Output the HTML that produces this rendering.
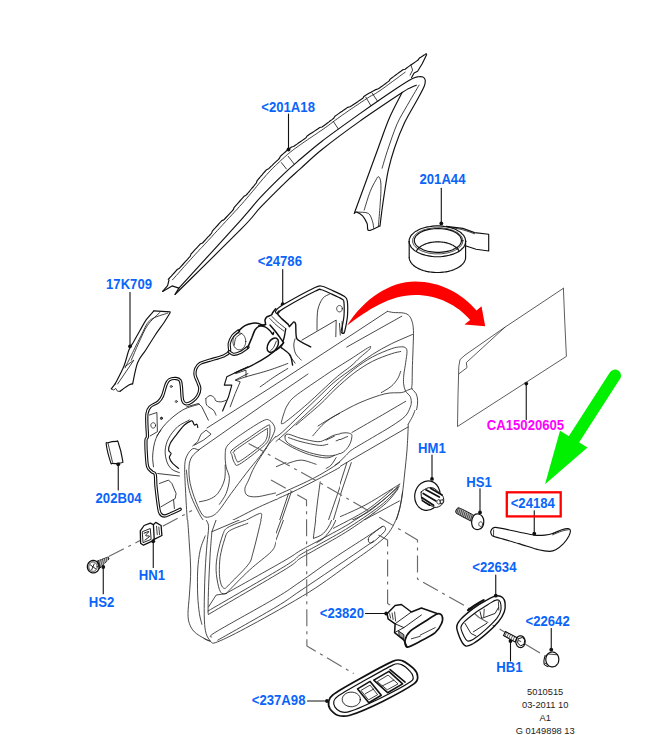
<!DOCTYPE html>
<html><head><meta charset="utf-8"><title>Door trim diagram</title>
<style>
html,body{margin:0;padding:0;background:#fff;}
body{width:647px;height:735px;overflow:hidden;}
svg{display:block;}
svg text{font-family:"Liberation Sans",Arial,sans-serif;}
.lb text{font-weight:bold;font-size:14px;}
.sm text{font-size:9.3px;fill:#222;text-anchor:middle;}
</style></head><body>
<svg width="647" height="735" viewBox="0 0 647 735">
<rect width="647" height="735" fill="#fff"/>
<g fill="none" stroke="#111" stroke-linecap="round" stroke-linejoin="round">
<g class="lb" stroke="none">
<text transform="translate(261.3 112) scale(0.938 1)" fill="#0a64fa">&lt;201A18</text>
<text transform="translate(419.5 183.8) scale(0.938 1)" fill="#0a64fa">201A44</text>
<text transform="translate(257.8 265.8) scale(0.938 1)" fill="#0a64fa">&lt;24786</text>
<text transform="translate(106.05 288.75) scale(0.938 1)" fill="#0a64fa">17K709</text>
<text transform="translate(95.55 502.75) scale(0.938 1)" fill="#0a64fa">202B04</text>
<text transform="translate(138.8 579.5) scale(0.938 1)" fill="#0a64fa">HN1</text>
<text transform="translate(88.8 606.75) scale(0.938 1)" fill="#0a64fa">HS2</text>
<text transform="translate(418.05 453) scale(0.938 1)" fill="#0a64fa">HM1</text>
<text transform="translate(466.3 486.75) scale(0.938 1)" fill="#0a64fa">HS1</text>
<text transform="translate(510.7 507.8) scale(0.938 1)" fill="#0a64fa">&lt;24184</text>
<text transform="translate(472.3 571.6) scale(0.938 1)" fill="#0a64fa">&lt;22634</text>
<text transform="translate(525.55 625.5) scale(0.938 1)" fill="#0a64fa">&lt;22642</text>
<text transform="translate(496.3 671.5) scale(0.938 1)" fill="#0a64fa">HB1</text>
<text transform="translate(319.8 618) scale(0.938 1)" fill="#0a64fa">&lt;23820</text>
<text transform="translate(251.8 704.75) scale(0.938 1)" fill="#0a64fa">&lt;237A98</text>
<text transform="translate(486.8 429.5) scale(0.938 1)" fill="#ff00ff">CA15020605</text>
</g>
<g class="sm" stroke="none">
<text x="545.2" y="694.6">5010515</text>
<text x="545.2" y="707.9">03-2011 10</text>
<text x="545.2" y="721">A1</text>
<text x="545.2" y="734">G 0149898 13</text>
</g>
<path d="M288.5 114 L288.5 149.5" stroke-width="1.1"/>
<circle cx="288.5" cy="149.5" r="1.9" fill="#111" stroke="none"/>
<path d="M441.3 188.3 L441.3 223.4" stroke-width="1.1"/>
<circle cx="441.3" cy="223.4" r="1.9" fill="#111" stroke="none"/>
<path d="M282.7 269.5 L282.7 304.2" stroke-width="1.1"/>
<circle cx="282.7" cy="304.2" r="1.9" fill="#111" stroke="none"/>
<path d="M130 292.5 L130 346.3" stroke-width="1.1"/>
<circle cx="130" cy="346.3" r="1.9" fill="#111" stroke="none"/>
<path d="M118.25 490 L118.25 464.3" stroke-width="1.1"/>
<circle cx="118.25" cy="464.3" r="1.9" fill="#111" stroke="none"/>
<path d="M153.25 567.5 L153.25 541.3" stroke-width="1.1"/>
<circle cx="153.25" cy="541.3" r="1.9" fill="#111" stroke="none"/>
<path d="M103.25 593.7 L103.25 567" stroke-width="1.1"/>
<circle cx="103.25" cy="567" r="1.9" fill="#111" stroke="none"/>
<path d="M432 455 L432 478.9" stroke-width="1.1"/>
<circle cx="432" cy="478.9" r="1.9" fill="#111" stroke="none"/>
<path d="M480 488.8 L480 512.5" stroke-width="1.1"/>
<circle cx="480" cy="512.5" r="1.9" fill="#111" stroke="none"/>
<path d="M534.25 510.8 L534.25 533.7" stroke-width="1.1"/>
<circle cx="534.25" cy="533.7" r="1.9" fill="#111" stroke="none"/>
<path d="M495.75 575 L495.75 595.7" stroke-width="1.1"/>
<circle cx="495.75" cy="595.7" r="1.9" fill="#111" stroke="none"/>
<path d="M551.25 628.5 L551.25 649.7" stroke-width="1.1"/>
<circle cx="551.25" cy="649.7" r="1.9" fill="#111" stroke="none"/>
<path d="M510.5 661 L510.5 641" stroke-width="1.1"/>
<circle cx="510.5" cy="641" r="1.9" fill="#111" stroke="none"/>
<path d="M365.5 613.5 L386.2 613.5" stroke-width="1.1"/>
<circle cx="386.2" cy="613.5" r="1.9" fill="#111" stroke="none"/>
<path d="M307.5 701 L327 701" stroke-width="1.1"/>
<circle cx="327" cy="701" r="1.9" fill="#111" stroke="none"/>
<path d="M526.25 419.5 L526.25 383.6" stroke-width="1.1"/>
<circle cx="526.25" cy="383.6" r="1.9" fill="#111" stroke="none"/>
<rect x="506.8" y="492.3" width="53.9" height="24.1" stroke="#ff0000" stroke-width="2.3" stroke-linejoin="miter"/>
<path d="M347 325.6 C363.8 298.8 390.1 281.5 415.1 281.5 C440.2 281.5 462.7 293.8 476.5 310.6 L481.5 306.3 L485.2 326.3 L464.4 324.6 L470.2 320.1 C457.7 305.1 437.6 295 415.1 295 C390.1 295 367.5 310.1 347 325.6Z" fill="#ff0000" stroke="none"/>
<path d="M615 375.5 L573.5 440" stroke="#00f000" stroke-width="12" stroke-linecap="round"/>
<path d="M560 430.7 L587.5 447.5 L545 484.3Z" fill="#00f000" stroke="none"/>
<path d="M168.3 279.4 L169.1 278.5 L170.1 277.4 L171.3 276.1 L172.6 274.6 L174.1 273 L175.6 271.3 L177.2 269.5 L179.5 268.2 L181.1 266.4 L182.8 264.5 L184.4 262.7 L186 260.9 L187.5 259.3 L188.9 257.7 L190.2 256.3 L191.1 253.9 L192.6 252.3 L194.1 250.7 L195.5 249.2 L196.8 247.8 L198.1 246.4 L199.3 245.1 L200.6 243.7 L202.6 243 L203.9 241.5 L205.2 240.1 L206.5 238.7 L207.8 237.2 L209.1 235.9 L210.4 234.5 L211.6 233.1 L212.3 231.1 L213.6 229.7 L215 228.2 L216.4 226.6 L217.9 225 L219.5 223.2 L220.7 221.9 L221.9 220.6 L223.8 219.9 L225.1 218.5 L226.5 217 L227.8 215.6 L229.2 214.1 L230.6 212.6 L232 211.1 L233.4 209.5 L234.2 207.3 L235.6 205.8 L237.1 204.2 L238.5 202.6 L239.9 201 L241.3 199.4 L242.7 197.9 L244 196.3 L246.1 195.2 L247.6 193.5 L249 191.8 L250.5 190 L252 188.2 L253.5 186.5 L254.9 184.7 L256.3 183 L257.1 180.7 L258.4 179.1 L259.8 177.5 L261 176 L262.3 174.6 L263.4 173.2 L264.5 172 L266.6 169.7 L269.1 168.4 L270.7 166.7 L272.2 165.3 L273.6 163.9 L274.9 162.7 L276.3 161.4 L277.7 160.1 L279.3 158.5 L280.3 156.4 L281.8 155 L283.4 153.6 L285 152.2 L286.6 150.8 L288.3 149.4 L289.9 148.2 L291.5 147 L293.6 146.5 L295.3 145.3 L297 144.1 L298.8 142.8 L300.7 141.5 L302.7 140.1 L304.3 139 L305.9 137.9 L307.1 136 L308.9 134.8 L310.7 133.6 L312.5 132.4 L314.4 131.1 L316.2 129.9 L318 128.7 L319.8 127.5 L322 127 L323.8 125.7 L325.5 124.5 L327.1 123.3 L328.7 122.1 L330.3 120.8 L332 119.6 L333.7 118.3 L334.9 116.3 L336.9 114.9 L339 113.4 L340.5 112.3 L342.2 111.2 L343.9 109.9 L345.7 108.7 L347.6 107.4 L350 106.8 L352 105.5 L353.9 104.2 L355.9 102.9 L357.7 101.7 L359.5 100.4 L361.3 99.3 L362.9 98.2 L363.9 96.4 L365.3 95.5 L367.7 94.1 L369.4 93.1 L370.7 92.4 L371.8 91.8 L373.2 91.1 L375.1 89.9 L378.3 88.8 L379.5 88 L380.8 87 L382.3 86 L383.8 84.9 L385.4 83.7 L387.1 82.4 L388.9 81.1 L390.2 79.1 L392 77.7 L393.9 76.4 L395.7 75 L397.6 73.6 L399.4 72.3 L401.2 71 L402.9 69.7 L405.1 69.2 L406.7 68 L408.2 66.9 L409.6 65.9 L410.9 65 L413.5 63.2 L415.8 61.6 L418 60.1 L419.4 58.1 L421.2 57 L422.7 56 L424.1 55.1 L425.2 54.4 L426.2 53.7" stroke-width="1.15"/>
<path d="M162.6 291.4 L167.6 285.6 L169 280" stroke-width="1.15"/>
<path d="M172.5 279.8 L173.7 278.5 L175 277 L176.4 275.4 L178 273.7 L179.5 271.9 L181.2 270 L182.8 268.2 L184.5 266.3 L186.1 264.5 L187.7 262.7 L189.2 261.1 L190.6 259.5 L191.9 258.1 L193.5 256.3 L195 254.7 L196.4 253.1 L197.8 251.7 L199.1 250.2 L200.4 248.8 L201.7 247.5 L203 246.1 L204.3 244.8 L205.6 243.3 L206.9 241.9 L208.2 240.5 L209.5 239 L210.8 237.7 L212.1 236.3 L213.3 234.9 L214.6 233.5 L215.9 232.1 L217.3 230.6 L218.8 229 L220.3 227.4 L221.9 225.6 L223.1 224.3 L224.3 223 L225.5 221.7 L226.8 220.3 L228.2 218.8 L229.5 217.4 L230.9 215.9 L232.3 214.4 L233.7 212.9 L235.1 211.3 L236.6 209.8 L238 208.2 L239.4 206.6 L240.9 205 L242.3 203.4 L243.7 201.8 L245 200.3 L246.4 198.7 L247.8 197 L249.3 195.3 L250.7 193.6 L252.2 191.8 L253.7 190 L255.2 188.3 L256.6 186.5 L258 184.8 L259.4 183.1 L260.8 181.5 L262.1 179.9 L263.4 178.4 L264.7 177 L265.8 175.6 L266.9 174.4 L269 172.1 L270.8 170.2 L272.4 168.5 L273.9 167.1 L275.3 165.7 L276.6 164.5 L278 163.2 L279.4 161.9 L281 160.3 L282.6 158.9 L284.2 157.4 L285.7 156.1 L287.2 154.7 L288.9 153.3 L290.6 151.9 L292.2 150.7 L293.7 149.5 L295.3 148.3 L297 147.1 L298.7 145.9 L300.5 144.6 L302.4 143.3 L304.4 141.9 L306 140.8 L307.6 139.7 L309.3 138.5 L311.1 137.4 L312.9 136.1 L314.7 134.9 L316.6 133.7 L318.4 132.4 L320.2 131.2 L322 130 L323.7 128.8 L325.5 127.5 L327.2 126.3 L328.8 125.1 L330.4 123.9 L332 122.6 L333.7 121.4 L335.4 120.1 L337.2 118.8 L339.1 117.4 L341.2 115.9 L342.7 114.8 L344.4 113.7 L346.1 112.5 L347.9 111.2 L349.8 109.9 L351.7 108.6 L353.7 107.3 L355.6 106 L357.6 104.7 L359.4 103.5 L361.2 102.2 L363 101.1 L364.6 100 L366.1 99 L367.5 98.1 L369.8 96.6 L371.5 95.7 L372.8 95 L374 94.4 L375.4 93.6 L377.3 92.4 L380 90.6 L381.2 89.8 L382.5 88.8 L384 87.8 L385.5 86.7 L387.1 85.5 L388.8 84.2 L390.6 82.9 L392.4 81.6 L394.2 80.3 L396.1 78.9 L398 77.5 L399.8 76.1 L401.6 74.8 L403.4 73.5 L405.2 72.2" stroke-width="0.8"/>
<path d="M426.7 54.5 L422.2 63.8 L417.6 71.3 L414.1 73 L411.6 77.6" stroke-width="1.15"/>
<path d="M410.9 65 L412.6 70 L410.1 75.1" stroke-width="0.8"/>
<path d="M281.4 162.6 L286.4 168.9" stroke-width="0.8"/>
<path d="M288.2 156.3 L294 163.8" stroke-width="0.8"/>
<path d="M333.3 121.4 L338.3 128.9" stroke-width="0.8"/>
<path d="M365.8 97.1 L370.8 105.6" stroke-width="0.8"/>
<path d="M372.1 93.1 L377.6 101.3" stroke-width="0.8"/>
<path d="M162.6 291.4 L172.1 285.9 L178.9 288.1 L175.1 294.4" stroke-width="1.15"/>
<path d="M178.9 288.1 C189.4 276.6 228.4 233.9 242 218.8 C255.6 203.7 253 205.3 260.2 197.6 C267.4 189.9 278.5 179 285.2 172.6 C291.9 166.2 294.1 164.5 300.2 159.3 C306.3 154.1 312.1 148.8 322 141.2 C331.9 133.6 347.1 122.8 359.6 113.9 C372.1 105.1 388.4 93.9 397.1 88.1 C405.9 82.2 408.6 80.7 412.1 78.8 C415.7 76.9 416.6 77.1 418.4 76.8 C420.2 76.5 421.8 76.5 422.9 77.1 C424 77.6 425 78.6 425.2 80.1 C425.4 81.6 425.5 83 424.2 86.3 C422.9 89.6 420.4 94 417.1 100.1 C413.8 106.1 408.4 114.7 404.6 122.6 C400.9 130.5 397.3 139.8 394.6 147.7 C391.9 155.6 390.1 162.3 388.3 170.2 C386.6 178.1 385.2 188.1 384.1 195.2 C383 202.3 382.3 207.7 381.6 212.8 C380.9 217.9 380.3 223.8 380 226" stroke-width="1.15"/>
<path d="M175.1 294.4 C186.2 283.4 227.8 242.6 242 228.2 C256.2 213.8 253 215.3 260.2 207.7 C267.4 200.1 278.5 189.1 285.2 182.6 C291.9 176.1 294.1 174.4 300.2 168.9 C306.3 163.4 312.1 157.4 322 149.5 C331.9 141.6 346.2 130.9 359.6 121.4 C373 111.9 393.7 98.2 402.1 92.6 C410.5 87 407.6 89.2 410 88 C412.4 86.8 415.2 85.7 416.3 85.2" stroke-width="1.15"/>
<path d="M402.1 92.6 C400 96.8 393.6 108.4 389.6 117.6 C385.6 126.8 382.5 136.4 378.3 147.7 C374.2 158.9 368.5 174.4 364.6 185.2 C360.6 196.1 356.2 208.2 354.5 212.8" stroke-width="1.15"/>
<path d="M419.1 85.1 C417.1 88.5 410.8 99.1 407.1 105.6 C403.5 112.1 400.4 116.4 397.1 123.9 C393.9 131.3 390.1 142.8 387.6 150.2 C385.1 157.6 383 165.2 382.1 168.2" stroke-width="0.8"/>
<path d="M354.2 213.4 C354.6 213.2 355.3 211.7 356.7 212.1 C358.1 212.5 360.8 214.1 362.6 215.9 C364.3 217.8 366 221 367.1 223.5 C368.1 225.9 366.6 230.1 368.7 230.5 C370.8 230.9 377.9 226.7 379.7 226" stroke-width="1.15"/>
<path d="M356.7 212.1 C358.7 212.3 365.8 211.8 368.4 213.4 C371 215.1 371.7 219.3 372.6 221.8 C373.5 224.3 373.5 227.4 373.7 228.5" stroke-width="0.8"/>
<path d="M364.2 210.1 C365.2 207 368.1 196.7 370.1 191.7 C372 186.7 374.5 182.6 375.9 180.1 C377.3 177.5 377.6 176.6 378.4 176.7 C379.2 176.9 380.2 178.4 380.6 180.9 C381 183.4 381 187.7 380.9 191.7 C380.8 195.8 380.5 199.4 380.1 205.1 C379.7 210.8 378.7 222.5 378.4 226" stroke-width="0.8"/>
<path d="M153.9 310.9 L170.1 311.9" stroke-width="1.15"/>
<path d="M153.9 310.9 C152.6 312.4 148.6 316.5 146.3 319.7 C144.1 322.9 142.2 326.6 140.1 330.2 C138 333.8 135.7 338.1 133.8 341.5 C132 344.8 130.5 346.1 128.8 350.2 C127.2 354.4 126.1 360.9 123.8 366.5 C121.5 372.1 116.5 381.1 115.1 384" stroke-width="1.15"/>
<path d="M115.1 383.8 L111.3 388.8" stroke-width="1.15"/>
<path d="M170.1 312.7 C169.1 314.3 166.4 318.9 163.9 322.7 C161.4 326.4 158.2 330.6 155.1 335.2 C152.1 339.8 148.5 345.6 145.6 350.2 C142.7 354.8 139.8 357.1 137.6 362.7 C135.4 368.4 133.4 380.5 132.6 384" stroke-width="1.15"/>
<path d="M132.6 383.8 C132 384 130.9 383.8 128.8 385.1 C126.7 386.3 121.5 390.3 120.1 391.3" stroke-width="1.15"/>
<path d="M111.3 388.8 L113.8 390.1 L115.6 388.3 L117.6 391.3 L120.1 391.3" stroke-width="0.8"/>
<path d="M167.6 313.2 C164.7 314.3 154.5 316.5 150.1 320.2 C145.7 323.9 144.1 330.2 141.3 335.2 C138.6 340.2 136.5 344.8 133.8 350.2 C131.1 355.7 126.5 364.8 125.1 367.8" stroke-width="0.8"/>
<path d="M160.1 312.2 C158 314.3 151.1 320.1 147.6 325.2 C144.1 330.3 141.6 336.9 138.8 342.7 C136.1 348.6 132.6 357.3 131.3 360.2" stroke-width="0.8"/>
<path d="M125.1 366.5 L133.8 360.2 L117.6 384" stroke-width="0.8"/>
<path d="M106.3 444.7 C105.9 441.4 106.4 443.2 108 442.7 C109.7 442.1 114.6 441.4 116.3 441.4 C118 441.4 117.3 439.5 118.3 442.7 C119.4 445.8 122.1 456.8 122.6 460.2 C123.1 463.5 123 462.1 121.3 462.7 C119.6 463.2 114.3 463.6 112.5 463.4 C110.8 463.3 111.6 465.1 110.5 461.9 C109.5 458.8 106.7 447.9 106.3 444.7Z" stroke-width="1.15"/>
<path d="M108 443.2 L112.5 462.2" stroke-width="0.8"/>
<path d="M465.6 241.3 C465.3 242.6 465.9 242.7 464.7 245.3 C463.4 247.8 464.3 246.7 461.8 249 C459.4 251.3 460.8 250.3 457.4 252.2 C453.9 254 455.7 253.3 451.5 254.6 C447.3 255.9 449.4 255.5 444.7 256.1 C440 256.8 442.3 256.7 437.4 256.7 C432.5 256.7 434.8 256.8 430.1 256.1 C425.4 255.5 427.5 255.9 423.3 254.6 C419.1 253.3 420.9 254 417.5 252.2 C414 250.3 415.4 251.3 413 249 C410.5 246.7 411.4 247.8 410.2 245.3 C408.9 242.7 409.2 244 409.2 241.3 C409.2 238.7 408.9 239.9 410.2 237.3 C411.4 234.8 410.5 235.9 413 233.6 C415.4 231.3 414 232.3 417.5 230.4 C420.9 228.6 419.1 229.3 423.3 228 C427.5 226.7 425.4 227.2 430.1 226.5 C434.8 225.8 432.5 225.9 437.4 225.9 C442.3 225.9 440 225.8 444.7 226.5 C449.4 227.2 447.3 226.7 451.5 228 C455.7 229.3 453.9 228.6 457.4 230.4 C460.8 232.3 459.4 231.3 461.8 233.6 C464.3 235.9 463.4 234.8 464.7 237.3 C465.9 239.9 465.3 240 465.6 241.3 C465.9 242.6 465.9 240 465.6 241.3Z" stroke-width="1.15"/>
<path d="M462.8 240.8 C462.5 241.9 463 242 461.9 244.2 C460.8 246.3 461.6 245.4 459.4 247.3 C457.3 249.3 458.5 248.4 455.4 250 C452.4 251.6 454 251 450.3 252.1 C446.5 253.2 448.4 252.8 444.2 253.4 C440 254 442.1 253.8 437.7 253.8 C433.4 253.8 435.4 254 431.3 253.4 C427.1 252.8 429 253.2 425.2 252.1 C421.5 251 423.1 251.6 420 250 C417 248.4 418.2 249.3 416 247.3 C413.9 245.4 414.7 246.3 413.5 244.2 C412.4 242 412.7 243 412.7 240.8 C412.7 238.6 412.4 239.6 413.5 237.4 C414.7 235.3 413.9 236.2 416 234.3 C418.2 232.3 417 233.2 420 231.6 C423.1 230 421.5 230.6 425.2 229.5 C429 228.4 427.1 228.8 431.3 228.2 C435.4 227.6 433.4 227.8 437.7 227.8 C442.1 227.8 440 227.6 444.2 228.2 C448.4 228.8 446.5 228.4 450.3 229.5 C454 230.6 452.4 230 455.4 231.6 C458.5 233.2 457.3 232.3 459.4 234.3 C461.6 236.2 460.8 235.3 461.9 237.4 C463 239.6 462.5 239.7 462.8 240.8 C463.1 241.9 463.1 239.7 462.8 240.8Z" stroke-width="0.8"/>
<path d="M461.4 240.5 C461.2 241.5 461.7 241.6 460.6 243.5 C459.6 245.5 460.3 244.6 458.3 246.4 C456.3 248.2 457.4 247.4 454.5 248.8 C451.7 250.3 453.2 249.7 449.7 250.7 C446.2 251.8 447.9 251.4 444 251.9 C440.1 252.4 442 252.3 437.9 252.3 C433.8 252.3 435.7 252.4 431.8 251.9 C427.9 251.4 429.7 251.8 426.1 250.7 C422.6 249.7 424.1 250.3 421.3 248.8 C418.4 247.4 419.5 248.2 417.5 246.4 C415.5 244.6 416.2 245.5 415.2 243.5 C414.1 241.6 414.4 242.5 414.4 240.5 C414.4 238.4 414.1 239.4 415.2 237.4 C416.2 235.4 415.5 236.3 417.5 234.5 C419.5 232.8 418.4 233.5 421.3 232.1 C424.1 230.6 422.6 231.2 426.1 230.2 C429.7 229.2 427.9 229.5 431.8 229 C435.7 228.5 433.8 228.6 437.9 228.6 C442 228.6 440.1 228.5 444 229 C447.9 229.5 446.2 229.2 449.7 230.2 C453.2 231.2 451.7 230.6 454.5 232.1 C457.4 233.5 456.3 232.8 458.3 234.5 C460.3 236.3 459.6 235.4 460.6 237.4 C461.7 239.4 461.2 239.4 461.4 240.5 C461.7 241.5 461.7 239.4 461.4 240.5Z" stroke-width="1.15"/>
<path d="M465.6 257.2 C465.5 257.8 465.7 257.8 465.4 259.2 C465.1 260.5 465.3 259.8 464.7 261.1 C464 262.4 464.4 261.8 463.5 263 C462.5 264.3 463.1 263.7 461.8 264.8 C460.6 266 461.3 265.5 459.8 266.5 C458.3 267.6 459.1 267.1 457.4 268 C455.6 269 456.5 268.5 454.6 269.3 C452.6 270.2 453.6 269.8 451.5 270.5 C449.4 271.1 450.5 270.8 448.2 271.4 C445.9 271.9 447.1 271.7 444.7 272 C442.3 272.3 443.5 272.2 441.1 272.4 C438.7 272.6 439.9 272.5 437.4 272.5 C434.9 272.5 436.2 272.6 433.7 272.4 C431.3 272.2 432.5 272.3 430.1 272 C427.7 271.7 428.9 271.9 426.6 271.4 C424.3 270.8 425.4 271.1 423.3 270.5 C421.2 269.8 422.2 270.2 420.2 269.3 C418.3 268.5 419.2 269 417.5 268 C415.7 267.1 416.5 267.6 415 266.5 C413.5 265.5 414.2 266 413 264.8 C411.7 263.7 412.3 264.3 411.3 263 C410.4 261.8 410.8 262.4 410.2 261.1 C409.5 259.8 409.8 260.5 409.4 259.2 C409.1 257.8 409.3 257.8 409.2 257.2" stroke-width="1.15"/>
<path d="M409.2 241.3 L409.2 257.2" stroke-width="1.15"/>
<path d="M465.6 241.3 L465.6 257.2" stroke-width="1.15"/>
<path d="M416.6 250.6 C416.9 250.2 416.8 250.2 417.5 249.3 C418.1 248.5 417.8 248.9 418.6 248.1 C419.4 247.4 418.9 247.7 419.9 247 C420.8 246.3 420.3 246.7 421.3 246 C422.4 245.3 421.8 245.6 423 245.1 C424.2 244.5 423.6 244.7 424.8 244.2 C426.1 243.7 425.4 243.9 426.8 243.5 C428.1 243.1 427.4 243.3 428.8 242.9 C430.2 242.5 429.5 242.7 431 242.4 C432.4 242.1 431.7 242.3 433.2 242.1 C434.7 241.9 433.9 242 435.4 241.9 C437 241.8 436.2 241.8 437.7 241.8 C439.3 241.8 438.5 241.8 440 241.9 C441.5 242 440.8 241.9 442.3 242.1 C443.8 242.3 443.1 242.1 444.5 242.4 C446 242.7 445.3 242.5 446.7 242.9 C448.1 243.3 447.4 243.1 448.7 243.5 C450.1 243.9 449.4 243.7 450.7 244.2 C451.9 244.7 451.3 244.5 452.5 245.1 C453.6 245.6 453.1 245.3 454.1 246 C455.2 246.7 454.7 246.3 455.6 247 C456.5 247.7 456.1 247.4 456.9 248.1 C457.7 248.9 457.4 248.5 458 249.3 C458.7 250.2 458.6 250.2 458.9 250.6" stroke-width="1.15"/>
<path d="M446.1 226.4 L462.8 228.4 L474.5 232.6 L488.7 234.3 L488.7 251 L476.1 249.3 L466.1 246" stroke-width="1.15"/>
<path d="M449.4 227.1 C451.6 227.6 458.6 228.7 462.8 229.8 C467 230.9 472.5 233.1 474.5 233.8" stroke-width="0.8"/>
<path d="M563.4 288.3 L505.1 327.1 L465 355.1 L460 359.6 L458.8 366.4 L458 395.2 L457.5 426.5 L566.4 356.4 L564.7 320.1 L563.4 288.3" stroke-width="0.8" stroke="#333"/>
<path d="M505.1 327.1 L466.3 362.6 L467 367.6 L458.8 373.9" stroke-width="0.8" stroke="#333"/>
<path d="M180.2 509.3 C178.7 510 173.7 512.4 171.1 513.5 C168.5 514.6 166.2 516 164.4 516 C162.6 516 161.2 515 160.2 513.5 C159.2 512 159.2 511.2 158.5 506.8 C157.8 502.4 156.6 492.2 156 486.8 C155.4 481.4 155.9 476.8 155.2 474.3 C154.5 471.8 153.2 473.1 151.9 471.8 C150.7 470.6 148.6 469.6 147.7 466.8 C146.8 464 146.7 459.6 146.4 455.1 C146.1 450.7 145.8 443.2 146 440.1 C146.2 437 147.2 439.2 147.4 436.7 C147.6 434.2 147 428.9 146.9 425 C146.8 421.1 146.5 416.5 147 413.5 C147.5 410.5 148.1 408.8 150 406.8 C151.9 404.9 156.3 403.6 158.4 401.8 C160.5 400 161.2 398.8 162.5 396 C163.8 393.2 164.8 387.8 165.9 385.1 C167 382.4 167.5 380.9 169.2 379.8 C170.9 378.7 174.1 378.4 175.9 378.5 C177.7 378.6 179.2 379.1 180.1 380.5 C181 381.9 181 383.5 181.4 386.8 C181.8 390.1 181.8 397.4 182.6 400.2 C183.3 403 184.4 403.5 185.9 403.8 C187.4 404.1 189.9 403.1 191.8 401.8 C193.8 400.5 196.3 398.2 197.6 396 C198.9 393.8 199.8 390.9 199.8 388.5 C199.8 386.1 198.4 384 197.6 381.8 C196.8 379.6 195.4 377.3 195.1 375.1 C194.8 372.9 195.1 370.3 195.9 368.4 C196.7 366.4 197.7 364.8 200.1 363.4 C202.5 362 206.2 361.4 210.1 360.1 C214 358.9 220.3 357.3 223.5 355.9 C226.7 354.5 228.3 353.9 229.3 351.8 C230.3 349.7 228.7 346 229.3 343.4 C229.9 340.8 231.2 338 232.7 335.9 C234.2 333.8 237.5 331.7 238.5 330.9" stroke-width="3.3"/>
<path d="M180.2 509.3 C178.7 510 173.7 512.4 171.1 513.5 C168.5 514.6 166.2 516 164.4 516 C162.6 516 161.2 515 160.2 513.5 C159.2 512 159.2 511.2 158.5 506.8 C157.8 502.4 156.6 492.2 156 486.8 C155.4 481.4 155.9 476.8 155.2 474.3 C154.5 471.8 153.2 473.1 151.9 471.8 C150.7 470.6 148.6 469.6 147.7 466.8 C146.8 464 146.7 459.6 146.4 455.1 C146.1 450.7 145.8 443.2 146 440.1 C146.2 437 147.2 439.2 147.4 436.7 C147.6 434.2 147 428.9 146.9 425 C146.8 421.1 146.5 416.5 147 413.5 C147.5 410.5 148.1 408.8 150 406.8 C151.9 404.9 156.3 403.6 158.4 401.8 C160.5 400 161.2 398.8 162.5 396 C163.8 393.2 164.8 387.8 165.9 385.1 C167 382.4 167.5 380.9 169.2 379.8 C170.9 378.7 174.1 378.4 175.9 378.5 C177.7 378.6 179.2 379.1 180.1 380.5 C181 381.9 181 383.5 181.4 386.8 C181.8 390.1 181.8 397.4 182.6 400.2 C183.3 403 184.4 403.5 185.9 403.8 C187.4 404.1 189.9 403.1 191.8 401.8 C193.8 400.5 196.3 398.2 197.6 396 C198.9 393.8 199.8 390.9 199.8 388.5 C199.8 386.1 198.4 384 197.6 381.8 C196.8 379.6 195.4 377.3 195.1 375.1 C194.8 372.9 195.1 370.3 195.9 368.4 C196.7 366.4 197.7 364.8 200.1 363.4 C202.5 362 206.2 361.4 210.1 360.1 C214 358.9 220.3 357.3 223.5 355.9 C226.7 354.5 228.3 353.9 229.3 351.8 C230.3 349.7 228.7 346 229.3 343.4 C229.9 340.8 231.2 338 232.7 335.9 C234.2 333.8 237.5 331.7 238.5 330.9" stroke-width="1.1" stroke="#fff"/>
<path d="M229.3 351.8 C230 352.2 231.7 354.1 233.5 354.3 C235.3 354.4 237.7 353.8 240.2 352.6 C242.6 351.4 246.7 348.1 248 347.2" stroke-width="3.3"/>
<path d="M229.3 351.8 C230 352.2 231.7 354.1 233.5 354.3 C235.3 354.4 237.7 353.8 240.2 352.6 C242.6 351.4 246.7 348.1 248 347.2" stroke-width="1.1" stroke="#fff"/>
<path d="M247.5 348.2 C248.2 346.4 250.6 340.6 251.9 337.6 C253.1 334.5 253.9 331.9 255 330 C256.2 328.2 257 327.2 258.8 326.3 C260.5 325.4 264.5 324.7 265.7 324.4" stroke-width="1.5"/>
<path d="M238.5 330.9 C239.6 330 242.7 327 245 325.7 C247.3 324.4 250.4 323.6 252.5 323.2 C254.6 322.7 255.9 322.8 257.5 323.2 C259.2 323.5 261.2 324.9 262.5 325 C263.8 325.2 265 324.9 265.4 324 C265.8 323.2 264.8 321.2 265 320 C265.3 318.8 265.9 317.7 266.9 316.9 C268 316.1 270.3 315.8 271.3 315 C272.3 314.3 272.1 313.6 272.8 312.5 C273.5 311.5 275.2 309.4 275.7 308.8" stroke-width="1.5"/>
<path d="M277.2 311.8 C278.2 310.9 277.2 310.2 283.5 306.5 C289.8 302.8 308.4 292.6 314.8 289.5 C321.2 286.4 318.7 287.5 321.6 288 C324.6 288.5 328.9 290.9 332.5 292.5 C336.1 294.1 341 296.3 343.2 297.8 C345.4 299.3 345.2 298.6 345.6 301.5 C346 304.4 346 311.2 345.8 315 C345.6 318.8 345 321.2 344.5 324 C344 326.8 343.1 330.3 342.8 331.6" stroke-width="4.7"/>
<path d="M277.2 311.8 C278.2 310.9 277.2 310.2 283.5 306.5 C289.8 302.8 308.4 292.6 314.8 289.5 C321.2 286.4 318.7 287.5 321.6 288 C324.6 288.5 328.9 290.9 332.5 292.5 C336.1 294.1 341 296.3 343.2 297.8 C345.4 299.3 345.2 298.6 345.6 301.5 C346 304.4 346 311.2 345.8 315 C345.6 318.8 345 321.2 344.5 324 C344 326.8 343.1 330.3 342.8 331.6" stroke-width="2.3" stroke="#fff"/>
<path d="M279 311 C278.8 311.5 277.2 312.6 277.5 313.8 C277.9 315 279.5 316.4 281.3 318.2 C283.1 319.9 286.8 323 288.2 324.4 C289.5 325.8 289.2 326.2 289.4 326.5" stroke-width="1.5"/>
<path d="M245.7 341.4 C245.6 342.1 245.7 342.2 245.5 343.6 C245.2 345 245.4 344.3 244.8 345.6 C244.3 346.8 244.6 346.3 243.8 347.3 C243 348.3 243.5 347.9 242.5 348.6 C241.6 349.4 242 349.1 241 349.5 C239.9 349.8 240.4 349.7 239.3 349.7 C238.2 349.7 238.7 349.8 237.7 349.5 C236.6 349.1 237.1 349.4 236.2 348.6 C235.2 347.9 235.6 348.3 234.8 347.3 C234.1 346.3 234.4 346.8 233.8 345.6 C233.3 344.3 233.5 345 233.2 343.6 C232.9 342.2 233 342.8 233 341.4 C233 340 232.9 340.6 233.2 339.2 C233.5 337.9 233.3 338.5 233.8 337.2 C234.4 336 234.1 336.5 234.8 335.5 C235.6 334.5 235.2 334.9 236.2 334.2 C237.1 333.5 236.6 333.7 237.7 333.3 C238.7 333 238.2 333.1 239.3 333.1 C240.4 333.1 239.9 333 241 333.3 C242 333.7 241.6 333.5 242.5 334.2 C243.5 334.9 243 334.5 243.8 335.5 C244.6 336.5 244.3 336 244.8 337.2 C245.4 338.5 245.2 337.9 245.5 339.2 C245.7 340.6 245.6 340.7 245.7 341.4 C245.7 342.1 245.7 340.7 245.7 341.4Z" stroke-width="0.8"/>
<path d="M234.3 345.1 C234.6 343.8 234.7 339.5 236 337.6 C237.2 335.6 240.9 334.1 241.8 333.4" stroke-width="0.8"/>
<ellipse cx="272.8" cy="345.2" rx="4.8" ry="7.8" transform="rotate(30 272.8 345.2)" stroke-width="1.5"/>
<path d="M269.8 351.6 C270.4 350.9 272.5 349.3 273.5 347.6 C274.6 345.8 275.8 342.1 276.3 341.1" stroke-width="0.8"/>
<path d="M270 325 C271.1 326.3 274.4 330.1 276.3 332.5 C278.2 334.9 280.1 337.8 281.3 339.4 C282.5 341.1 283.2 342 283.6 342.6" stroke-width="1.5"/>
<path d="M258.8 325.7 C259.8 325.9 263.2 326.1 265 326.9 C266.9 327.7 268.7 329.4 270 330.7 C271.3 331.9 272.2 334.1 272.8 334.4 C273.4 334.7 273.4 332.9 273.5 332.5" stroke-width="1.5"/>
<path d="M271.9 316.5 C272.9 317.4 275.3 319.9 277.5 321.9 C279.8 323.9 284.3 327.4 285.7 328.5" stroke-width="0.8"/>
<path d="M269.8 318.5 C270.9 319.6 274 323 276.3 325 C278.6 327.1 282.6 330 283.8 331" stroke-width="0.8"/>
<path d="M285.7 328.8 C285.5 330 284.9 334.2 284.4 336.3 C284 338.4 283.1 340.7 282.8 341.6" stroke-width="1.4"/>
<path d="M283.6 342.6 C283.1 343.3 281.9 345.7 280.7 346.9 C279.5 348.2 277 349.5 276.3 350.1" stroke-width="1.3"/>
<path d="M235 372.8 C235.8 372.5 237.1 372 240 370.7 C242.9 369.4 247.9 367.5 252.5 365.1 C257.1 362.7 263.4 359 267.5 356.3 C271.7 353.6 274.9 351 277.5 348.8 C280.2 346.6 282.2 344.1 283.2 343.2" stroke-width="1.4"/>
<path d="M248 366.8 L226.8 376.8 L224.3 385.1 L231.8 385.1 L228.5 396.8 L222.6 411" stroke-width="1.15"/>
<path d="M248 373.5 L235.2 380.1 L240.2 381.8 L235.2 393.5 L230.2 406.8" stroke-width="0.8"/>
<path d="M289.4 326.5 C289.9 326.1 293.2 322.1 293.8 321.9 C294.4 321.7 295.4 322.7 295.7 324.4 C296 326.1 295.4 336.6 296.9 338.8 C298.4 341.1 309.3 346.1 310.7 346.9" stroke-width="1.4"/>
<path d="M295.1 338.8 C294.9 339.8 293.7 342.6 293.8 345.1 C293.9 347.6 294.4 351.3 295.7 353.8 C296.9 356.3 300.4 359 301.3 360.1" stroke-width="0.8"/>
<path d="M281.3 347.6 C282.8 348.8 288.2 352.2 290.1 355.1 C291.9 358 292.1 363.4 292.6 365.1" stroke-width="1.4"/>
<path d="M289.4 355.1 L295.1 363.2" stroke-width="0.8"/>
<path d="M205.9 398.5 C206.6 398 208.7 395.6 210.1 395.5 C211.5 395.4 213.3 396.7 214.3 397.7 C215.3 398.6 214.7 400.3 216 401 C217.2 401.7 220.1 402 221.8 401.8 C223.5 401.7 225.3 400.4 226 400.2" stroke-width="0.8"/>
<path d="M205.9 398.5 C206.1 399.6 205.5 403.2 206.8 405.2 C208 407.1 211.9 408.5 213.5 410.2 C215 411.9 215.5 414.4 216 415.2" stroke-width="0.8"/>
<path d="M186.7 406.8 L198.4 403.5 L201.8 406.8 L208.4 420.2" stroke-width="0.8"/>
<path d="M172.2 386.5 C172.2 386.6 172.2 386.6 172.2 386.7 C172.1 386.9 172.2 386.8 172.1 387 C172 387.1 172 387.1 171.9 387.2 C171.8 387.3 171.9 387.3 171.7 387.3 C171.6 387.4 171.6 387.4 171.5 387.4 C171.3 387.5 171.4 387.5 171.2 387.5 C171 387.5 171.1 387.5 171 387.4 C170.8 387.4 170.9 387.4 170.7 387.3 C170.6 387.3 170.6 387.3 170.5 387.2 C170.4 387.1 170.4 387.1 170.4 387 C170.3 386.8 170.3 386.9 170.3 386.7 C170.2 386.6 170.2 386.7 170.2 386.5 C170.2 386.3 170.2 386.4 170.3 386.2 C170.3 386.1 170.3 386.1 170.4 386 C170.4 385.8 170.4 385.9 170.5 385.8 C170.6 385.6 170.6 385.7 170.7 385.6 C170.9 385.5 170.8 385.6 171 385.5 C171.1 385.5 171 385.5 171.2 385.5 C171.4 385.5 171.3 385.5 171.5 385.5 C171.6 385.6 171.6 385.5 171.7 385.6 C171.9 385.7 171.8 385.6 171.9 385.8 C172 385.9 172 385.8 172.1 386 C172.2 386.1 172.1 386.1 172.2 386.2 C172.2 386.4 172.2 386.4 172.2 386.5 C172.2 386.6 172.2 386.4 172.2 386.5Z" stroke-width="0.8"/>
<path d="M177.2 401.5 C177.2 401.6 177.2 401.6 177.2 401.8 C177.1 401.9 177.2 401.9 177.1 402 C177 402.2 177.1 402.1 176.9 402.2 C176.8 402.3 176.9 402.3 176.7 402.4 C176.6 402.5 176.7 402.4 176.5 402.5 C176.3 402.5 176.4 402.5 176.2 402.5 C176.1 402.5 176.1 402.5 176 402.5 C175.8 402.4 175.9 402.5 175.7 402.4 C175.6 402.3 175.6 402.3 175.5 402.2 C175.4 402.1 175.4 402.2 175.4 402 C175.3 401.9 175.3 401.9 175.3 401.8 C175.2 401.6 175.2 401.7 175.2 401.5 C175.2 401.3 175.2 401.4 175.3 401.2 C175.3 401.1 175.3 401.2 175.4 401 C175.4 400.9 175.4 400.9 175.5 400.8 C175.6 400.7 175.6 400.7 175.7 400.6 C175.9 400.5 175.8 400.6 176 400.5 C176.1 400.5 176.1 400.5 176.2 400.5 C176.4 400.5 176.3 400.5 176.5 400.5 C176.7 400.6 176.6 400.5 176.7 400.6 C176.9 400.7 176.8 400.7 176.9 400.8 C177.1 400.9 177 400.9 177.1 401 C177.2 401.2 177.1 401.1 177.2 401.2 C177.2 401.4 177.2 401.4 177.2 401.5 C177.2 401.6 177.2 401.4 177.2 401.5Z" stroke-width="0.8"/>
<path d="M162.4 418.5 C162.4 418.6 162.4 418.6 162.3 418.8 C162.3 419 162.3 418.9 162.2 419 C162.2 419.2 162.2 419.1 162.1 419.2 C162 419.4 162 419.3 161.9 419.4 C161.7 419.5 161.8 419.5 161.6 419.5 C161.5 419.5 161.5 419.5 161.4 419.5 C161.2 419.5 161.3 419.5 161.1 419.5 C160.9 419.5 161 419.5 160.9 419.4 C160.7 419.3 160.8 419.4 160.7 419.2 C160.5 419.1 160.6 419.2 160.5 419 C160.4 418.9 160.4 419 160.4 418.8 C160.4 418.6 160.4 418.7 160.4 418.5 C160.4 418.4 160.4 418.4 160.4 418.3 C160.4 418.1 160.4 418.2 160.5 418 C160.6 417.9 160.5 417.9 160.7 417.8 C160.8 417.7 160.7 417.7 160.9 417.7 C161 417.6 160.9 417.6 161.1 417.6 C161.3 417.5 161.2 417.5 161.4 417.5 C161.5 417.5 161.5 417.5 161.6 417.6 C161.8 417.6 161.7 417.6 161.9 417.7 C162 417.7 162 417.7 162.1 417.8 C162.2 417.9 162.2 417.9 162.2 418 C162.3 418.2 162.3 418.1 162.3 418.3 C162.4 418.4 162.4 418.4 162.4 418.5 C162.4 418.6 162.4 418.4 162.4 418.5Z" stroke-width="0.8"/>
<path d="M317 330.1 C317.1 326.7 316.8 315.3 317.8 310 C318.8 304.7 320.9 301 322.8 298.3 C324.8 295.7 328.4 294.9 329.5 294.2" stroke-width="0.8"/>
<path d="M301.9 340.1 L336.2 320.1 L335.8 336.7" stroke-width="0.8"/>
<path d="M339.5 323.4 L340.3 335.1" stroke-width="0.8"/>
<path d="M342 321.7 L342.8 333.4" stroke-width="0.8"/>
<path d="M342.3 308.7 C342.3 309 342.4 309 342.2 309.5 C342.1 310 342.2 309.8 342 310.3 C341.7 310.8 341.9 310.6 341.5 310.9 C341.2 311.3 341.3 311.2 340.9 311.4 C340.5 311.7 340.7 311.6 340.2 311.8 C339.8 311.9 340 311.9 339.5 311.9 C339 311.9 339.2 311.9 338.8 311.8 C338.3 311.6 338.5 311.7 338.1 311.4 C337.7 311.2 337.8 311.3 337.5 310.9 C337.2 310.6 337.3 310.8 337 310.3 C336.8 309.8 336.9 310 336.8 309.5 C336.6 309 336.7 309.2 336.7 308.7 C336.7 308.2 336.6 308.4 336.8 307.9 C336.9 307.3 336.8 307.6 337 307.1 C337.3 306.6 337.2 306.8 337.5 306.5 C337.8 306.1 337.7 306.2 338.1 306 C338.5 305.7 338.3 305.8 338.8 305.6 C339.2 305.5 339 305.5 339.5 305.5 C340 305.5 339.8 305.5 340.2 305.6 C340.7 305.8 340.5 305.7 340.9 306 C341.3 306.2 341.2 306.1 341.5 306.5 C341.9 306.8 341.7 306.6 342 307.1 C342.2 307.6 342.1 307.3 342.2 307.9 C342.4 308.4 342.3 308.4 342.3 308.7 C342.4 309 342.4 308.4 342.3 308.7Z" stroke-width="0.8"/>
<path d="M236 380.2 C237.7 379.6 240.5 378.5 246 376.8 C251.6 375.1 262.4 372.4 269.4 370.1 C276.3 367.9 284.7 364.6 287.8 363.5" stroke-width="0.8"/>
<path d="M260.2 386.8 C262.6 385.2 269.8 379.9 274.4 376.8 C279 373.8 285.5 369.9 287.8 368.5" stroke-width="0.8"/>
<path d="M236 373.5 L246 370.1 L246 376.8" stroke-width="0.8"/>
<path d="M149.4 415 L156.9 412.5 L157.4 431.7 L150.2 435.9" stroke-width="0.8"/>
<path d="M155.5 425.4 C155.5 425.6 155.6 425.6 155.5 426.1 C155.3 426.5 155.4 426.3 155.2 426.7 C155 427.1 155.1 426.9 154.8 427.3 C154.6 427.6 154.7 427.5 154.4 427.7 C154 427.9 154.2 427.8 153.8 428 C153.4 428.1 153.6 428 153.2 428 C152.8 428 153 428.1 152.6 428 C152.2 427.8 152.4 427.9 152 427.7 C151.7 427.5 151.8 427.6 151.5 427.3 C151.3 426.9 151.4 427.1 151.2 426.7 C151 426.3 151 426.5 150.9 426.1 C150.8 425.6 150.9 425.8 150.9 425.4 C150.9 424.9 150.8 425.1 150.9 424.7 C151 424.2 151 424.4 151.2 424 C151.4 423.6 151.3 423.8 151.5 423.5 C151.8 423.2 151.7 423.3 152 423.1 C152.4 422.8 152.2 422.9 152.6 422.8 C153 422.7 152.8 422.7 153.2 422.7 C153.6 422.7 153.4 422.7 153.8 422.8 C154.2 422.9 154 422.8 154.4 423.1 C154.7 423.3 154.6 423.2 154.8 423.5 C155.1 423.8 155 423.6 155.2 424 C155.4 424.4 155.3 424.2 155.5 424.7 C155.6 425.1 155.5 425.1 155.5 425.4 C155.6 425.6 155.6 425.1 155.5 425.4Z" stroke-width="0.8"/>
<path d="M162.2 418 C162.2 418.1 162.2 418.1 162.2 418.2 C162.1 418.4 162.2 418.3 162.1 418.4 C162 418.6 162.1 418.5 162 418.6 C161.9 418.7 161.9 418.7 161.8 418.8 C161.7 418.8 161.7 418.8 161.6 418.8 C161.5 418.9 161.5 418.9 161.4 418.9 C161.2 418.9 161.3 418.9 161.2 418.8 C161 418.8 161.1 418.8 161 418.8 C160.8 418.7 160.9 418.7 160.8 418.6 C160.7 418.5 160.7 418.6 160.7 418.4 C160.6 418.3 160.6 418.4 160.6 418.2 C160.5 418.1 160.5 418.2 160.5 418 C160.5 417.9 160.5 418 160.6 417.8 C160.6 417.7 160.6 417.7 160.7 417.6 C160.7 417.5 160.7 417.5 160.8 417.4 C160.9 417.3 160.8 417.4 161 417.3 C161.1 417.2 161 417.3 161.2 417.2 C161.3 417.2 161.2 417.2 161.4 417.2 C161.5 417.2 161.5 417.2 161.6 417.2 C161.7 417.3 161.7 417.2 161.8 417.3 C161.9 417.4 161.9 417.3 162 417.4 C162.1 417.5 162 417.5 162.1 417.6 C162.2 417.7 162.1 417.7 162.2 417.8 C162.2 418 162.2 418 162.2 418 C162.2 418.1 162.2 418 162.2 418Z" stroke-width="0.8"/>
<path d="M197.8 427.5 C197.6 427 197.5 424.6 196.9 424.2 C196.4 423.8 195.1 425.5 194.4 425 C193.7 424.6 193.3 422.4 192.8 421.7 C192.2 421 192.5 420.3 191.1 420.9 C189.7 421.4 186.9 422.7 184.4 425 C181.9 427.4 178.4 432 176.1 435.1 C173.7 438.1 171.5 440.9 170.2 443.4 C169 445.9 168.4 448.4 168.6 450.1 C168.7 451.8 170.9 452.2 171.1 453.4 C171.2 454.7 169.1 455.9 169.4 457.6 C169.7 459.3 171.2 461.6 172.7 463.4 C174.3 465.2 177.6 467.6 178.6 468.4" stroke-width="1.15"/>
<path d="M189.4 420 C187.5 421.1 181.2 423.7 177.7 426.7 C174.3 429.8 170.6 434.5 168.6 438.4 C166.5 442.3 165.5 446.2 165.2 450.1 C164.9 454 165.8 458.6 166.9 461.8 C168 465 169.8 467.5 171.9 469.3 C174 471.1 178.2 472.1 179.4 472.6" stroke-width="0.8"/>
<path d="M199.4 404.2 C196.7 405.1 188.3 406.8 182.7 410 C177.2 413.2 170.5 418.6 166.1 423.4 C161.6 428.1 158.3 433.1 156 438.4 C153.8 443.7 153.1 450.4 152.7 455.1 C152.3 459.8 153.4 464.8 153.5 466.8" stroke-width="0.8"/>
<path d="M161 430.1 L156.9 435.9" stroke-width="0.8"/>
<path d="M157.7 473.5 L179.4 476" stroke-width="0.8"/>
<path d="M159.4 483.5 L168.6 480.1 L171.9 483.5 L176.1 493.5 L175.2 498.5 L161 506.8" stroke-width="0.8"/>
<path d="M173.6 500.2 L174.4 508.5" stroke-width="0.8"/>
<path d="M207 428 L270 388 L343.8 340 L387.5 311.3" stroke-width="0.85" stroke="#2a2a2a"/>
<path d="M198.5 450 L270 400 L308 374" stroke-width="0.85" stroke="#2a2a2a"/>
<clipPath id="c1"><rect x="176" y="400" width="100" height="120"/></clipPath><g clip-path="url(#c1)">
<path d="M192.7 445.9 L197.7 441.7 L201 434.2 L206.1 430.1 L211.1 434.2 L203.5 440.1 L194.4 445.1" stroke-width="0.85" stroke="#2a2a2a"/>
<path d="M199.4 449.6 C198.1 450.8 193.6 453.9 191.9 456.8 C190.1 459.6 189.3 462.3 189 466.8 C188.7 471.2 189 477.6 190.2 483.5 C191.4 489.3 193.9 496.5 196 501.8 C198.1 507.1 200.5 512.7 202.7 515.2 C204.9 517.7 206.9 517.4 209.4 516.9 C211.9 516.3 214.1 515.7 217.7 511.9 C221.4 508 226.4 499.9 231.1 493.5 C235.8 487.1 241.4 479.6 246.1 473.5 C250.8 467.3 255.6 461.8 259.5 456.8 C263.4 451.8 265.4 448.3 269.5 443.4 C273.6 438.5 281.6 430.2 284 427.5" stroke-width="0.85" stroke="#2a2a2a"/>
<path d="M186.4 470.1 C186.7 472.9 187.5 481.8 188.5 486.8 C189.6 491.8 190.6 495.2 192.7 500.2 C194.8 505.2 199 513.2 201 516.9 C203.1 520.5 204.5 521.2 205.2 522" stroke-width="0.85" stroke="#2a2a2a"/>
<path d="M219.4 504.3 C220.5 502.5 224.4 497.8 226.1 493.5 C227.8 489.2 229.4 482.9 229.4 478.5 C229.4 474 226.8 470.7 226.1 466.8 C225.4 462.9 225 458.7 225.2 455.1 C225.5 451.5 224.8 448.7 227.8 445.1 C230.7 441.5 236.9 437.4 242.8 433.4 C248.6 429.4 258.4 423 262.8 420.9 C267.3 418.7 267.5 419.4 269.5 420.4 C271.4 421.3 273.8 424.5 274.5 426.7 C275.2 428.9 275.1 429.8 273.7 433.4 C272.3 437 267.4 445.9 266.2 448.4" stroke-width="0.85" stroke="#2a2a2a"/>
<path d="M199.4 501.8 C201 501.4 206.3 500.7 209.4 499.3 C212.4 497.9 215.2 496.7 217.7 493.5 C220.2 490.3 223.2 484.9 224.4 480.1 C225.7 475.4 225.1 467.6 225.2 465.1" stroke-width="0.85" stroke="#2a2a2a"/>
<path d="M231.9 450.1 C234.8 447.2 243.6 441.6 249.5 437.6 C255.3 433.5 263.6 427.7 267 425.9 C270.4 424.1 269.5 424.6 269.8 426.7 C270.2 428.8 270.2 435.1 269 438.4 C267.8 441.7 267.7 442.4 262.8 446.7 C257.9 451.1 244.2 461.6 239.4 464.3 C234.7 466.9 235.7 464.1 234.4 462.6 C233.2 461.1 232.3 457.2 231.9 455.1 C231.5 453 229 453 231.9 450.1Z" stroke-width="0.85" stroke="#2a2a2a"/>
<path d="M234.4 450.9 C237.2 448.4 245.8 442.8 251.1 439.2 C256.4 435.6 263.4 430.7 266.2 429.2 C268.9 427.7 267.4 428.6 267.5 430.1 C267.6 431.5 267.7 435.6 266.7 438.1 C265.6 440.6 265.9 441.3 261.5 445.1 C257.1 448.9 244.4 458.5 240.3 460.9 C236.1 463.4 237.4 460.9 236.4 459.8 C235.5 458.7 234.8 455.7 234.4 454.3 C234.1 452.8 231.6 453.4 234.4 450.9Z" stroke-width="0.85" stroke="#2a2a2a"/>
<path d="M198.5 450.1 C197.6 449.9 194.6 447.8 192.7 448.7 C190.7 449.7 188.2 452.9 186.9 455.9 C185.5 458.9 184.9 460.5 184.7 466.8 C184.5 473 185.2 484.3 185.7 493.5 C186.1 502.7 187.1 517.3 187.4 522" stroke-width="0.85" stroke="#2a2a2a"/>
<path d="M266.2 448.4 C264.2 451.5 257.4 461.5 254.5 466.8 C251.5 472.1 250.2 476.5 248.6 480.1 C247 483.8 245.2 486 244.9 488.5 C244.7 491 245.1 493.8 247 495.2 C248.8 496.5 252.4 497 256.1 496.8 C259.9 496.7 264.8 495.3 269.5 494.3 C274.1 493.4 281.6 491.5 284 491" stroke-width="0.85" stroke="#2a2a2a"/>
<path d="M226.1 523.5 C228.3 522.4 233.9 519.6 239.4 516.9 C245 514.1 252 510.3 259.5 506.8 C266.9 503.4 279.9 497.8 284 496" stroke-width="0.85" stroke="#2a2a2a"/>
<path d="M242.8 522 C245.6 520.6 256.4 514.4 259.5 513.5 C262.6 512.7 261.5 515.2 261.5 516.9 C261.5 518.5 259.8 522.4 259.5 523.5" stroke-width="0.85" stroke="#2a2a2a"/>
<path d="M282.8 413.4 L280.3 422.5" stroke-width="0.85" stroke="#2a2a2a"/>
</g>
<clipPath id="c2"><rect x="270" y="340" width="70" height="60"/></clipPath><g clip-path="url(#c2)">
<path d="M351 408.2 C347.9 410 338.1 414.9 332.6 418.8 C327 422.8 320.1 429.8 317.6 432" stroke-width="0.85" stroke="#2a2a2a"/>
<path d="M270 421.4 C270.6 422.2 273 424.6 273.8 426.4 C274.5 428.1 274.3 431.1 274.4 432" stroke-width="0.85" stroke="#2a2a2a"/>
</g>
<clipPath id="c3"><rect x="340" y="300" width="100" height="110"/></clipPath><g clip-path="url(#c3)">
<path d="M381.3 392.6 C383 391.6 388.6 388.6 391.3 386.3 C394 384 396 381.3 397.6 378.8 C399.2 376.3 400.2 372.6 400.7 371.3" stroke-width="0.85" stroke="#2a2a2a"/>
<path d="M387.6 311.4 C388.6 311.5 390.8 312.2 393.4 312.5 C396.1 312.8 400.8 312.5 403.5 313 C406.1 313.6 407.8 314.1 409.3 315.9 C410.8 317.6 411.9 320.5 412.6 323.4 C413.3 326.3 413.4 328.9 413.5 333.4 C413.5 337.8 413.2 344 413 350.1 C412.8 356.2 412.4 364.6 412.3 370.1 C412.2 375.7 412.2 380.4 412.1 383.5 C412.1 386.5 411.2 386.8 411.8 388.5 C412.4 390.2 415 391.5 416 393.5 C417 395.4 417.5 397.7 417.6 400.2 C417.8 402.7 417.4 405.7 416.8 408.5 C416.3 411.3 415 414.6 414.3 416.9 C413.6 419.1 412.9 421.2 412.6 422" stroke-width="0.85" stroke="#2a2a2a"/>
<path d="M346.7 347.1 L401.8 316.2" stroke-width="0.85" stroke="#2a2a2a"/>
</g>
<clipPath id="c4"><rect x="276" y="400" width="64" height="120"/></clipPath><g clip-path="url(#c4)">
<path d="M285.2 435.9 C285.6 434.8 285.9 433.8 288.5 434.2 C291.2 434.6 296.2 437.1 301 438.4 C305.9 439.6 313.6 441.6 317.7 441.7 C321.9 441.9 323.3 440.3 326.1 439.2 C328.9 438.1 331.1 436 334.4 435.1 C337.8 434.1 343.3 433.2 346.1 433.4 C348.9 433.5 350.4 434.5 351.1 435.9 C351.8 437.3 351.1 439.6 350.3 441.7 C349.5 443.8 348.2 446.3 346.1 448.4 C344 450.5 341.1 453 337.8 454.3 C334.4 455.5 330.8 456.2 326.1 455.9 C321.4 455.6 315 454.3 309.4 452.6 C303.8 450.9 296.6 447.9 292.7 445.9 C288.8 444 287.3 442.6 286 440.9 C284.8 439.2 284.8 437 285.2 435.9Z" stroke-width="0.85" stroke="#2a2a2a"/>
<path d="M288.5 437.6 C290.6 438.3 295.9 440.4 301 441.7 C306.2 443 315 445 319.4 445.4 C323.9 445.8 326.4 444.4 327.8 444.2" stroke-width="0.85" stroke="#2a2a2a"/>
<path d="M326.1 440.1 L334.4 436.2" stroke-width="0.85" stroke="#2a2a2a"/>
<path d="M336.1 440.9 L347 436.4" stroke-width="0.85" stroke="#2a2a2a"/>
<path d="M279.3 439.2 C281.6 440.6 287.7 445 292.7 447.6 C297.7 450.1 303.8 452.9 309.4 454.6 C315 456.3 321.9 457.8 326.1 457.9 C330.3 458.1 333 455.8 334.4 455.4" stroke-width="0.85" stroke="#2a2a2a"/>
<path d="M312.7 435.9 C315 433.5 320.5 426 326.1 421.7 C331.6 417.4 338.9 413.6 346.1 410 C353.4 406.4 365.6 401.7 369.5 400" stroke-width="0.85" stroke="#2a2a2a"/>
<path d="M352 432.6 L384 414.2" stroke-width="0.85" stroke="#2a2a2a"/>
<path d="M336.1 457.6 C335.3 458.8 332.8 463.3 331.1 465.1 C329.4 466.9 326.9 467.9 326.1 468.4" stroke-width="0.85" stroke="#2a2a2a"/>
<path d="M270 498.5 C271 498 274.3 496.3 276 495.5 C277.7 494.7 274.1 496.5 280 493.8 C285.9 491.1 303 483.6 311.3 479.4 C319.6 475.2 325.2 471.7 330 468.8 C334.8 465.9 337.7 463.7 340 461.9 C342.3 460.1 343.3 458.6 344 458" stroke-width="0.85" stroke="#2a2a2a"/>
<path d="M270 502.5 C271 502.1 274.3 500.6 276 499.8 C277.7 499 277.2 498.9 280 497.6 C282.8 496.3 286.7 494.8 292.5 492 C298.3 489.2 307.1 484.8 315 480.7 C322.9 476.6 334.6 470.4 340 467.3 C345.4 464.2 346.2 462.9 347.5 462" stroke-width="0.85" stroke="#2a2a2a"/>
<path d="M287.7 463.4 C289.9 462.9 296.3 460 301 460.1 C305.8 460.2 313.6 463.6 316.1 464.3" stroke-width="0.85" stroke="#2a2a2a"/>
<path d="M276 466.8 L286 462.6" stroke-width="0.85" stroke="#2a2a2a"/>
<path d="M347.8 462.6 C346.7 466.1 344.4 473.6 341.1 483.5 C337.8 493.4 330 515.6 327.8 522" stroke-width="0.85" stroke="#2a2a2a"/>
<path d="M351.1 462.1 C350 465.7 347.5 473.5 344.4 483.5 C341.4 493.5 334.7 515.6 332.8 522" stroke-width="0.85" stroke="#2a2a2a"/>
<path d="M320.2 481.8 C319.8 484.9 318.6 493.5 317.7 500.2 C316.9 506.9 315.6 518.4 315.2 522" stroke-width="0.85" stroke="#2a2a2a"/>
<path d="M291 492.7 L281 522" stroke-width="0.85" stroke="#2a2a2a"/>
<path d="M288.5 493.5 L279 522" stroke-width="0.85" stroke="#2a2a2a"/>
<path d="M384 496 L342.8 522" stroke-width="0.85" stroke="#2a2a2a"/>
<path d="M384 500.2 L356.1 522" stroke-width="0.85" stroke="#2a2a2a"/>
<path d="M384 504.3 L362.8 522" stroke-width="0.85" stroke="#2a2a2a"/>
</g>
<clipPath id="c5"><rect x="340" y="410" width="108" height="110"/></clipPath><g clip-path="url(#c5)">
<path d="M416 407.5 C415.4 409 413.9 413.5 412.6 416.3 C411.3 419.1 408.9 422.6 408.2 424.4 C407.5 426.2 408.4 422.6 408.2 426.9 C408 431.2 407.6 442 407 450 C406.4 458 405.2 468 404.5 475 C403.8 482 403.3 486.7 402.6 492 C401.9 497.3 401.4 501.6 400.1 506.8 C398.9 512 396.8 519.3 395.1 523.5 C393.4 527.7 390.9 530.6 390 532" stroke-width="0.85" stroke="#2a2a2a"/>
<path d="M328.7 473.2 L335 469.5 L347.5 462 L408.2 426.9" stroke-width="0.85" stroke="#2a2a2a"/>
<path d="M330 435 C330.8 434.9 332.5 434.8 335 434.4 C337.5 434 342.4 432.9 345 432.8 C347.6 432.7 349.5 433.2 350.6 433.8 C351.8 434.4 352 434.6 351.9 436.3 C351.8 438 351.2 441.4 350 443.8 C348.9 446.2 346.9 448.9 345 450.7 C343.1 452.5 340.4 453.6 338.8 454.4 C337.1 455.3 336.5 455.3 335 455.7 C333.5 456.1 330.8 456.7 330 456.9" stroke-width="0.85" stroke="#2a2a2a"/>
<path d="M331.2 443.2 L336.3 441.3 L347.5 436.5" stroke-width="0.85" stroke="#2a2a2a"/>
<path d="M346.9 462.6 L337.5 492 L335 500.1" stroke-width="0.85" stroke="#2a2a2a"/>
<path d="M351.3 462.6 L341.3 492 L338.8 500.1" stroke-width="0.85" stroke="#2a2a2a"/>
<path d="M340 516.8 C344.2 514.9 356.7 509.6 365 505.2 C373.4 500.7 384.4 493.6 390.1 490.1 C395.8 486.7 397.7 485.3 399.3 484.3" stroke-width="0.85" stroke="#2a2a2a"/>
<path d="M340 525.2 C344.7 523 358.6 518.2 368.4 511.8 C378.1 505.4 393.4 491 398.4 486.8" stroke-width="0.85" stroke="#2a2a2a"/>
<path d="M343.3 531.5 C347.8 529.1 360.7 521.9 370.1 516.8 C379.4 511.8 394.4 503.6 399.3 501" stroke-width="0.85" stroke="#2a2a2a"/>
</g>
<clipPath id="c6"><rect x="176" y="520" width="100" height="125"/></clipPath><g clip-path="url(#c6)">
<path d="M205.2 535.9 C204.4 538.2 201.5 544.3 200.2 550.1 C199 555.8 198.1 562.6 197.7 570.1 C197.3 577.6 197.4 587.9 197.7 595.1 C198 602.4 198.7 608.6 199.4 613.5 C200.1 618.4 201.5 622.5 201.9 624.3" stroke-width="0.85" stroke="#2a2a2a"/>
<path d="M206.1 520 C206.5 521.1 208.4 522.5 208.6 526.7 C208.7 530.9 207.4 537.8 206.9 545 C206.3 552.3 205.6 561.7 205.2 570.1 C204.8 578.4 204.5 586.8 204.4 595.1 C204.2 603.5 204.1 613.8 204.4 620.2 C204.7 626.6 205.1 630 206.1 633.5 C207 637 209.5 639.8 210.2 641" stroke-width="0.85" stroke="#2a2a2a"/>
<path d="M211.9 531.7 C211.6 535.3 210.8 544.2 210.2 553.4 C209.7 562.6 208.9 577.2 208.6 586.8 C208.2 596.4 208.1 606.4 208.1 611 C208.1 615.6 208.5 613.8 208.6 614.3" stroke-width="0.85" stroke="#2a2a2a"/>
<path d="M216.1 520 L211.9 531.7 L239.4 520" stroke-width="0.85" stroke="#2a2a2a"/>
<path d="M208.6 606.8 L216.1 595.1 L226.1 593.5" stroke-width="0.85" stroke="#2a2a2a"/>
<path d="M246.1 520 C243.1 521.3 231.6 525 227.8 527.5 C223.9 530 224.4 530.7 222.7 535 C221.1 539.3 218.8 547.5 217.7 553.4 C216.6 559.2 215.9 564.5 216.1 570.1 C216.2 575.6 217.6 582.9 218.6 586.8 C219.5 590.7 220.7 592.3 221.9 593.5 C223.2 594.6 225.4 593.5 226.1 593.5" stroke-width="0.85" stroke="#2a2a2a"/>
<path d="M261.1 520 C259.8 525.6 255 545.9 252.8 553.4 C250.6 560.9 252 559.6 247.8 565.1 C243.6 570.5 231.6 582 227.8 585.9 C223.9 589.8 225.5 588.7 224.4 588.4 C223.3 588.2 221.9 586.8 221.1 584.3 C220.2 581.8 219.5 578 219.4 573.4 C219.3 568.8 219.4 562.3 220.2 556.7 C221.1 551.2 222.9 544.3 224.4 540 C225.9 535.7 225.5 533.6 229.4 530.9 C233.3 528.1 244.7 524.6 247.8 523.3" stroke-width="0.85" stroke="#2a2a2a"/>
<path d="M226.1 593.5 C230 589.6 241.9 577 249.5 570.1 C257 563.1 266.7 556.4 271.2 551.7 C275.6 547 274.5 545.9 276.2 541.7 C277.8 537.5 280.1 530.3 281.2 526.7 C282.3 523.1 282.6 521.1 282.8 520" stroke-width="0.85" stroke="#2a2a2a"/>
<path d="M187.7 520 C188 524.2 188.9 536.7 189.4 545 C189.9 553.4 190.7 561.7 190.7 570.1 C190.7 578.4 189.8 587.9 189.4 595.1 C188.9 602.4 188 608.8 188 613.5 C188 618.2 188.3 620.4 189.4 623.5 C190.4 626.6 191.9 629.3 194.4 631.9 C196.9 634.4 201.7 637 204.4 638.5 C207 640.1 209.2 640.6 210.2 641" stroke-width="0.85" stroke="#2a2a2a"/>
</g>
<clipPath id="c7"><rect x="276" y="520" width="64" height="125"/></clipPath><g clip-path="url(#c7)">
<path d="M344.2 466.7 C343.3 471.4 340.5 486.1 338.4 495 C336.3 503.9 334.2 513.7 331.7 520.1 C329.2 526.5 326.4 530.4 323.4 533.4 C320.3 536.5 315 537.6 313.4 538.4" stroke-width="0.85" stroke="#2a2a2a"/>
<path d="M348.4 466.7 C347.3 471.7 344 487.5 341.7 496.7 C339.5 505.9 337.8 515.1 335.1 521.8 C332.3 528.4 328.1 533.3 325 536.8 C322 540.3 318.1 541.6 316.7 542.6" stroke-width="0.85" stroke="#2a2a2a"/>
<path d="M320 481.7 C319.5 486.7 317.8 502.4 316.7 511.7 C315.6 521.1 313.9 533.3 313.4 537.6" stroke-width="0.85" stroke="#2a2a2a"/>
<path d="M283.5 520 L276 540" stroke-width="0.85" stroke="#2a2a2a"/>
<path d="M281 520 L276 533.4" stroke-width="0.85" stroke="#2a2a2a"/>
</g>
<clipPath id="c8"><rect x="340" y="520" width="108" height="105"/></clipPath><g clip-path="url(#c8)">
</g>
<path d="M204 638.5 C205 639 208 640.7 210.2 641.3 C212.4 641.9 210.5 644.7 217.3 642 C224.1 639.3 235.8 633.5 251.1 625.2 C266.4 616.9 292.7 602.3 309.2 592 C325.7 581.7 339.3 571 350 563.5 C360.7 556 367.3 551.5 373.4 546.8 C379.5 542.1 383.3 539 386.8 535.1 C390.3 531.2 392.2 527.6 394.3 523.4 C396.4 519.2 397.9 515.2 399.3 510 C400.7 504.8 402.1 495 402.6 492" stroke-width="0.85" stroke="#2a2a2a"/>
<path d="M217.7 640.2 C227.4 634.7 262.3 615.2 276 607 C289.7 598.8 290.4 597.4 300 591 C309.6 584.6 321.7 576.4 333.4 568.5 C345.1 560.6 363.5 548 370.1 543.5 C376.7 539 372.5 541.8 373 541.5" stroke-width="0.85" stroke="#2a2a2a"/>
<path d="M211.9 636.9 C212.6 636.1 205.3 638.4 216 631.9 C226.7 625.4 262 606.1 276 597.8 C290 589.5 290.4 588.5 300 582 C309.6 575.5 322.3 566 333.4 558.5 C344.5 551 358.6 542.1 366.8 536.8 C375 531.4 380 528.1 382.6 526.4" stroke-width="0.85" stroke="#2a2a2a"/>
<path d="M226 593.5 C235.7 588.1 271.7 568 284 560.9 C296.3 553.8 294.6 554 300 550.8 C305.4 547.6 308.4 546.3 316.7 541.7 C325 537.1 338.9 530.2 350 523.3 C361.1 516.3 375.1 506.5 383.4 500 C391.7 493.5 397.2 486.8 400 484.2" stroke-width="0.85" stroke="#2a2a2a"/>
<path d="M208 611 C220.7 603.6 268.7 576 284 566.7 C299.3 557.4 294.6 558.5 300 555 C305.4 551.5 308.4 550.5 316.7 545.8 C325 541.1 338.9 533.8 350 526.7 C361.1 519.6 375.2 510 383.4 503.3 C391.6 496.6 396.6 489.5 399.2 486.7" stroke-width="0.85" stroke="#2a2a2a"/>
<path d="M208.6 614.3 C221.2 606.9 268.8 579.4 284 570.1 C299.2 560.8 294.6 562 300 558.5 C305.4 555 308.4 553.8 316.7 549 C325 544.2 338.9 536.8 350 529.5 C361.1 522.2 375.4 512.2 383.4 505.5 C391.4 498.8 395.6 491.8 398 489" stroke-width="0.85" stroke="#2a2a2a"/>
<path d="M333.4 528.3 C339 525.2 356.9 516.5 366.8 510 C376.7 503.5 388.3 492.7 392.6 489.2" stroke-width="0.85" stroke="#2a2a2a"/>
<path d="M368.4 539.3 C368.6 538.2 367.9 538 370.1 535.9 C372.3 533.9 379.3 528.2 381.8 526.8 C384.3 525.4 384.7 526.8 385.1 527.6 C385.6 528.4 386.3 529.4 384.3 531.8 C382.4 534.1 376 540 373.5 541.8 C371 543.6 370.1 543 369.3 542.6 C368.4 542.2 368.3 540.4 368.4 539.3Z" stroke-width="0.85" stroke="#2a2a2a"/>
<path d="M282 423.5 C281.9 423.4 281 424.2 281.3 422.6 C281.6 421 282.8 416.7 283.8 413.8 C284.8 410.9 285.6 407.9 287.5 405 C289.4 402.1 289.6 400.7 295 396.3 C300.4 391.9 313.3 383.4 320 378.8 C326.7 374.2 329.8 372.1 335 368.8 C340.2 365.5 345.4 362.4 351 358.8 C356.6 355.2 365.6 349.1 368.8 347.3 C372 345.5 370.4 347.4 370.4 347.8 C370.4 348.2 370.5 348.4 368.8 350 C367.1 351.6 363 354.8 360 357.5 C357 360.2 355.2 362.5 351 366 C346.8 369.5 342.2 372.2 335 378.5 C327.8 384.8 315.6 396.7 307.5 403.8 C299.4 410.9 290.6 418.1 286.3 421.4 C282.1 424.7 282.7 423.1 282 423.5" stroke-width="0.85" stroke="#2a2a2a"/>
<path d="M412.6 334.4 C409.1 336 398 340.5 391.3 343.8 C384.6 347.1 378.8 350.4 372.5 354.4 C366.2 358.4 360.1 363.1 353.8 367.6 C347.6 372.1 340.6 376.8 335 381.5 C329.4 386.2 325.8 390.1 320 395.7 C314.2 401.3 306.2 408.9 300 415 C293.8 421.1 286.5 428.3 282.5 432 C278.5 435.7 277.1 436.2 276 437" stroke-width="0.85" stroke="#2a2a2a"/>
<path d="M276 441.4 C278.1 439.5 281.5 436.8 288.8 430.1 C296.1 423.4 312.3 408.4 320 401 C327.7 393.6 329.4 391.3 335 386 C340.6 380.7 347.6 374.2 353.8 369.4 C360.1 364.5 366.2 360.3 372.5 356.9 C378.8 353.5 386.7 350.5 391.3 348.8 C395.9 347.1 397.8 347.1 400.1 346.9 C402.4 346.7 404 346.8 405.1 347.5 C406.2 348.2 406.9 348.8 407 351.3 C407.1 353.8 406.2 358.6 405.7 362.5 C405.2 366.4 404.1 371.4 403.8 375 C403.5 378.6 403.3 381.1 403.6 383.8 C403.9 386.5 404.6 389.2 405.7 391.3 C406.8 393.4 409.2 394.5 410.1 396.3 C411 398.1 411.3 400.1 411.3 402 C411.3 403.9 411.1 405.1 410.1 407.5 C409.1 409.9 408.2 413.2 405.1 416.3 C402 419.4 396.7 422.8 391.3 426.3 C385.9 429.8 379 433.6 372.5 437.5 C366 441.4 356.9 446.5 352.5 449.4 C348.1 452.3 348.4 453.1 346.3 455.1 C344.2 457.1 341.9 459.6 340 461.3 C338.1 463 335.8 464.5 335 465.1" stroke-width="0.85" stroke="#2a2a2a"/>
<path d="M296 425 C300 421.6 313.5 410.4 320 404.5 C326.5 398.6 329.4 394.7 335 389.5 C340.6 384.3 347.6 377.9 353.8 373.2 C360.1 368.5 366.2 364.5 372.5 361.3 C378.8 358.1 386.6 355.4 391.3 353.8 C396 352.2 399.1 351.9 400.7 351.5" stroke-width="0.85" stroke="#2a2a2a"/>
<path d="M318 426 C320.8 424.3 328 419.6 335 415.7 C342 411.8 351.7 406.2 360 402.6 C368.3 399 378.1 395.5 385 393.8 C391.9 392.1 397.5 393.2 401.3 392.6 C405.1 392 405.8 390.9 407.6 390.2 C409.4 389.5 411.4 388.8 412.1 388.5" stroke-width="0.85" stroke="#2a2a2a"/>
<path d="M351.9 432.5 C356.4 429.9 369.8 422.2 378.8 417 C387.8 411.8 401.2 403.9 405.7 401.3" stroke-width="0.85" stroke="#2a2a2a"/>
<path d="M248.6 443.4 L315 480 L365 508.7 L417.5 540 L417.5 579 L467.5 607.3 L478.7 617.2 L505 632.2 L545 656" stroke-width="1.15" stroke="#6a6a6a" stroke-dasharray="17 5 3 5" stroke-linecap="butt"/>
<path d="M271 480 L306.5 500 L306.9 646 L353.7 673.5" stroke-width="1.15" stroke="#6a6a6a" stroke-dasharray="17 5 3 5" stroke-linecap="butt"/>
<path d="M378.5 535 L387.6 540 L387.6 603.5 L391.7 606" stroke-width="1.15" stroke="#6a6a6a" stroke-dasharray="17 5 3 5" stroke-linecap="butt"/>
<path d="M108.7 556.6 L140 540.6" stroke-width="1.15" stroke="#6a6a6a" stroke-dasharray="17 5 3 5" stroke-linecap="butt"/>
<path d="M162.7 526.2 L192 510.5" stroke-width="1.15" stroke="#6a6a6a" stroke-dasharray="17 5 3 5" stroke-linecap="butt"/>
<ellipse cx="427.4" cy="495.6" rx="12.6" ry="14.8" transform="rotate(12 427.4 495.6)" stroke-width="1.2"/>
<path d="M421.2 491.9 C421.8 490.6 426.9 488.1 428.2 487.8 C429.5 487.4 432.9 487.7 434.4 488.5 C435.8 489.4 441.9 495 442.9 496.3 C443.8 497.6 443.8 500.8 443.6 501.7 C443.4 502.6 441.7 505 440.9 505.5 C440 506.1 436.9 507.9 435.1 507.4 C433.3 506.9 424.2 502.5 422.8 500.9 C421.4 499.4 420.7 493.3 421.2 491.9Z" stroke-width="1.0" fill="#fff"/>
<path d="M423.2 493.5 L435.9 500.9" stroke-width="1.7"/>
<path d="M425.9 489.8 L439.3 497" stroke-width="1.7"/>
<path d="M430.5 488.2 L442.1 495" stroke-width="1.7"/>
<path d="M421.7 497.5 L433.6 505.2" stroke-width="1.7"/>
<path d="M422.3 500.6 L429.7 505.2" stroke-width="1.7"/>
<path d="M440.5 501.8 C440.5 502 440.6 502 440.5 502.4 C440.4 502.8 440.5 502.6 440.3 502.9 C440.1 503.2 440.2 503.1 440 503.4 C439.8 503.6 439.9 503.5 439.6 503.7 C439.3 503.9 439.5 503.8 439.2 503.9 C438.9 504 439 504 438.7 504 C438.4 504 438.5 504 438.2 503.9 C437.9 503.8 438 503.9 437.8 503.7 C437.5 503.5 437.6 503.6 437.4 503.4 C437.2 503.1 437.2 503.2 437.1 502.9 C436.9 502.6 437 502.8 436.9 502.4 C436.8 502 436.8 502.2 436.8 501.8 C436.8 501.5 436.8 501.6 436.9 501.3 C437 500.9 436.9 501.1 437.1 500.8 C437.2 500.4 437.2 500.6 437.4 500.3 C437.6 500 437.5 500.2 437.8 500 C438 499.8 437.9 499.8 438.2 499.7 C438.5 499.7 438.4 499.7 438.7 499.7 C439 499.7 438.9 499.7 439.2 499.7 C439.5 499.8 439.3 499.8 439.6 500 C439.9 500.2 439.8 500 440 500.3 C440.2 500.6 440.1 500.4 440.3 500.8 C440.5 501.1 440.4 500.9 440.5 501.3 C440.6 501.6 440.5 501.7 440.5 501.8 C440.6 502 440.6 501.7 440.5 501.8Z" stroke-width="0.9"/>
<path d="M440.2 500.3 L442.9 499.7 L443.6 502.5 L440.9 503.7Z" stroke-width="0.9" fill="#fff"/>
<path d="M456.3 509.9 C456.7 509.5 457.2 507.2 459.1 507.9 C461 508.5 473.9 515 475.3 516.4 C476.7 517.8 474.8 522 473 521.8 C471.2 521.5 459.3 515 457.6 514 C455.8 513.1 455.8 512.5 455.7 512 C455.6 511.6 456 510.3 456.3 509.9Z" stroke-width="1.0" fill="#bbb"/>
<path d="M458.3 508.6 L456.8 513.3" stroke-width="0.7"/>
<path d="M460 509.5 L458.5 514.1" stroke-width="0.7"/>
<path d="M461.7 510.4 L460.2 515" stroke-width="0.7"/>
<path d="M463.4 511.2 L461.9 515.9" stroke-width="0.7"/>
<path d="M465.1 512.1 L463.6 516.7" stroke-width="0.7"/>
<path d="M466.8 513 L465.3 517.6" stroke-width="0.7"/>
<path d="M468.5 513.8 L467 518.5" stroke-width="0.7"/>
<path d="M470.2 514.7 L468.7 519.3" stroke-width="0.7"/>
<path d="M471.9 515.6 L470.4 520.2" stroke-width="0.7"/>
<path d="M474.6 514.8 C475.6 514 477.1 513.8 478.4 514 C479.7 514.3 481.4 515.1 482.3 516.4 C483.2 517.7 483.8 520 483.8 521.8 C483.8 523.6 483.2 525.9 482.3 527.2 C481.4 528.5 479.8 529.3 478.4 529.5 C477 529.7 474.9 529.3 473.8 528.4 C472.7 527.5 472 525.7 471.8 524.1 C471.5 522.5 471.8 520.2 472.2 518.7 C472.7 517.1 473.5 515.6 474.6 514.8Z" stroke-width="1.2" fill="#fff"/>
<path d="M482.7 524.1 C482.7 524.3 482.8 524.3 482.7 524.7 C482.6 525.1 482.6 524.9 482.5 525.3 C482.3 525.6 482.4 525.5 482.2 525.7 C481.9 526 482 525.9 481.7 526.1 C481.4 526.3 481.6 526.2 481.3 526.3 C480.9 526.4 481.1 526.4 480.7 526.4 C480.4 526.4 480.5 526.4 480.2 526.3 C479.9 526.2 480 526.3 479.7 526.1 C479.4 525.9 479.6 526 479.3 525.7 C479.1 525.5 479.2 525.6 479 525.3 C478.8 524.9 478.9 525.1 478.8 524.7 C478.7 524.3 478.7 524.5 478.7 524.1 C478.7 523.7 478.7 523.9 478.8 523.5 C478.9 523.1 478.8 523.3 479 522.9 C479.2 522.6 479.1 522.7 479.3 522.5 C479.6 522.2 479.4 522.3 479.7 522.1 C480 521.9 479.9 522 480.2 521.9 C480.5 521.8 480.4 521.8 480.7 521.8 C481.1 521.8 480.9 521.8 481.3 521.9 C481.6 522 481.4 521.9 481.7 522.1 C482 522.3 481.9 522.2 482.2 522.5 C482.4 522.7 482.3 522.6 482.5 522.9 C482.6 523.3 482.6 523.1 482.7 523.5 C482.8 523.9 482.7 523.9 482.7 524.1 C482.8 524.3 482.8 523.9 482.7 524.1Z" stroke-width="0.8"/>
<path d="M490.8 531.2 C491.2 530.2 492.2 527.3 495.5 527.4 C498.7 527.5 514.1 531.1 518.6 532 C523.1 532.9 531 534.7 534.1 535.1 C537.2 535.5 542.8 535.3 544.9 535.1 C547.1 534.9 550.7 534.2 552.6 533.5 C554.6 532.9 560.1 530.3 561.9 529.7 C563.7 529.1 567.1 528.5 568.1 528.6 C569.1 528.7 570.3 529.6 570.4 530.5 C570.5 531.3 569.7 534.3 568.9 535.9 C568.1 537.4 565 542 563.5 543.6 C561.9 545.2 557.4 548.9 555.7 549.8 C554.1 550.7 551.5 551.3 549.6 551.3 C547.6 551.3 542.3 550.7 538.7 549.8 C535.1 548.9 523.1 544.9 518.6 543.6 C514.1 542.2 503.2 539.1 500.1 538.2 C497 537.3 493.4 536.7 492.4 535.9 C491.3 535.1 490.5 532.2 490.8 531.2Z" stroke-width="1.15"/>
<path d="M493.6 530 L493.6 536.3" stroke-width="0.8"/>
<path d="M552.6 534.8 C554.2 534.2 559.3 531.9 561.9 531.1 C564.5 530.2 567.3 530 568.4 529.8" stroke-width="0.8"/>
<path d="M140.3 530.9 L144.1 525.5 L150.3 523.1 L153.4 524.7 L154.2 538.6 L151.1 541.7 L143.4 545.2 L140.6 543.2Z" stroke-width="1.3" fill="#fff"/>
<path d="M153.4 524.7 L155.7 522.4 L161.1 525.5 L161.9 535.5 L154.2 539.4" stroke-width="1.3"/>
<path d="M142.6 531.6 L150.3 528.5 L151.1 539.4 L143.4 542.5Z" stroke-width="0.9"/>
<path d="M144.1 533.2 C144.9 532.9 148.5 531.3 148.8 531.6 C149 532 145.6 534.7 145.7 535.5 C145.8 536.3 149.7 535.5 149.6 536.3 C149.4 537 145.7 539.5 144.9 540.1" stroke-width="1.0"/>
<path d="M156.5 526.2 L157.3 534.7" stroke-width="0.8"/>
<path d="M158.8 527 L159.6 534.7" stroke-width="0.8"/>
<path d="M97.3 561.1 L108.1 557 L109.1 559 L99.8 568.2Z" stroke-width="0.9" fill="#555"/>
<path d="M99.8 560.5 L101.3 566.1" stroke-width="0.8" stroke="#ddd"/>
<path d="M101.6 559.8 L102.9 564.7" stroke-width="0.8" stroke="#ddd"/>
<path d="M103.5 559.1 L104.4 563.3" stroke-width="0.8" stroke="#ddd"/>
<path d="M105.3 558.4 L106 561.9" stroke-width="0.8" stroke="#ddd"/>
<path d="M107.2 557.7 L107.5 560.5" stroke-width="0.8" stroke="#ddd"/>
<path d="M99.2 566.7 C99.1 567.2 99.2 567.3 99 568.3 C98.7 569.3 98.9 568.9 98.4 569.8 C97.9 570.7 98.2 570.3 97.4 571.1 C96.7 571.8 97.1 571.5 96.2 572 C95.4 572.6 95.8 572.4 94.8 572.7 C93.8 572.9 94.3 572.9 93.3 572.9 C92.3 572.9 92.8 572.9 91.8 572.7 C90.8 572.4 91.2 572.6 90.4 572 C89.5 571.5 89.9 571.8 89.1 571.1 C88.4 570.3 88.7 570.7 88.2 569.8 C87.7 568.9 87.9 569.3 87.6 568.3 C87.4 567.3 87.4 567.8 87.4 566.7 C87.4 565.6 87.4 566.1 87.6 565.1 C87.9 564.1 87.7 564.5 88.2 563.6 C88.7 562.7 88.4 563.1 89.1 562.3 C89.9 561.6 89.5 561.9 90.4 561.3 C91.2 560.8 90.8 561 91.8 560.7 C92.8 560.4 92.3 560.5 93.3 560.5 C94.3 560.5 93.8 560.4 94.8 560.7 C95.8 561 95.4 560.8 96.2 561.3 C97.1 561.9 96.7 561.6 97.4 562.3 C98.2 563.1 97.9 562.7 98.4 563.6 C98.9 564.5 98.7 564.1 99 565.1 C99.2 566.1 99.1 566.2 99.2 566.7 C99.2 567.2 99.2 566.2 99.2 566.7Z" stroke-width="1.3"/>
<path d="M97.2 566.7 C97.1 567.1 97.2 567.1 97 567.9 C96.8 568.7 97 568.3 96.6 569 C96.2 569.7 96.4 569.4 95.9 570 C95.4 570.5 95.7 570.3 95.1 570.7 C94.4 571.1 94.8 571 94.1 571.2 C93.4 571.4 93.7 571.3 93 571.3 C92.3 571.3 92.6 571.4 91.9 571.2 C91.2 571 91.5 571.1 90.9 570.7 C90.3 570.3 90.5 570.5 90 570 C89.5 569.4 89.7 569.7 89.4 569 C89 568.3 89.1 568.7 89 567.9 C88.8 567.1 88.8 567.5 88.8 566.7 C88.8 565.9 88.8 566.3 89 565.5 C89.1 564.7 89 565.1 89.4 564.4 C89.7 563.7 89.5 564 90 563.4 C90.5 562.8 90.3 563.1 90.9 562.7 C91.5 562.3 91.2 562.4 91.9 562.2 C92.6 562 92.3 562.1 93 562.1 C93.7 562.1 93.4 562 94.1 562.2 C94.8 562.4 94.4 562.3 95.1 562.7 C95.7 563.1 95.4 562.8 95.9 563.4 C96.4 564 96.2 563.7 96.6 564.4 C97 565.1 96.8 564.7 97 565.5 C97.2 566.3 97.1 566.3 97.2 566.7 C97.2 567.1 97.2 566.3 97.2 566.7Z" stroke-width="0.8"/>
<path d="M90.2 564.8 L95.8 568.9" stroke-width="0.9"/>
<path d="M94.2 563.9 L91.7 569.8" stroke-width="0.9"/>
<path d="M505.5 631.6 L517.1 637.8 L515.2 642.1 L503.5 635.5Z" stroke-width="1.1" fill="#fff"/>
<path d="M506.6 632.6 L504.7 636.3" stroke-width="0.7"/>
<path d="M508.6 633.6 L506.7 637.4" stroke-width="0.7"/>
<path d="M510.6 634.7 L508.7 638.4" stroke-width="0.7"/>
<path d="M512.6 635.8 L510.8 639.5" stroke-width="0.7"/>
<path d="M514.6 636.9 L512.8 640.6" stroke-width="0.7"/>
<path d="M525.1 641.7 C525.1 642.2 525.2 642.2 525 643.2 C524.8 644.2 524.9 643.7 524.5 644.6 C524.1 645.5 524.3 645.1 523.8 645.8 C523.2 646.6 523.5 646.3 522.8 646.8 C522.1 647.3 522.5 647.1 521.7 647.4 C520.9 647.6 521.3 647.6 520.5 647.6 C519.7 647.6 520.1 647.6 519.3 647.4 C518.5 647.1 518.9 647.3 518.2 646.8 C517.5 646.3 517.8 646.6 517.2 645.8 C516.7 645.1 516.9 645.5 516.5 644.6 C516.1 643.7 516.2 644.2 516 643.2 C515.8 642.2 515.9 642.7 515.9 641.7 C515.9 640.7 515.8 641.1 516 640.2 C516.2 639.2 516.1 639.6 516.5 638.7 C516.9 637.9 516.7 638.2 517.2 637.5 C517.8 636.8 517.5 637.1 518.2 636.6 C518.9 636.1 518.5 636.3 519.3 636 C520.1 635.7 519.7 635.8 520.5 635.8 C521.3 635.8 520.9 635.7 521.7 636 C522.5 636.3 522.1 636.1 522.8 636.6 C523.5 637.1 523.2 636.8 523.8 637.5 C524.3 638.2 524.1 637.9 524.5 638.7 C524.9 639.6 524.8 639.2 525 640.2 C525.2 641.1 525.1 641.2 525.1 641.7 C525.2 642.2 525.2 641.2 525.1 641.7Z" stroke-width="1.2"/>
<path d="M518.6 638.6 L522.5 637.5 L524.8 640.1 L524 644.3 L520.5 645.9 L517.9 643.2Z" stroke-width="1.0"/>
<path d="M558.8 659.5 C558.8 660.1 558.9 660.1 558.6 661.4 C558.3 662.6 558.5 662.1 558 663.2 C557.4 664.3 557.7 663.8 556.9 664.7 C556.1 665.6 556.5 665.2 555.6 665.9 C554.6 666.5 555.1 666.3 554 666.6 C552.9 667 553.5 666.9 552.3 666.9 C551.2 666.9 551.7 667 550.7 666.6 C549.6 666.3 550.1 666.5 549.1 665.9 C548.1 665.2 548.5 665.6 547.7 664.7 C547 663.8 547.3 664.3 546.7 663.2 C546.2 662.1 546.4 662.6 546.1 661.4 C545.8 660.1 545.8 660.7 545.8 659.5 C545.8 658.2 545.8 658.8 546.1 657.5 C546.4 656.3 546.2 656.9 546.7 655.7 C547.3 654.6 547 655.1 547.7 654.2 C548.5 653.3 548.1 653.7 549.1 653 C550.1 652.4 549.6 652.6 550.7 652.3 C551.7 652 551.2 652 552.3 652 C553.5 652 552.9 652 554 652.3 C555.1 652.6 554.6 652.4 555.6 653 C556.5 653.7 556.1 653.3 556.9 654.2 C557.7 655.1 557.4 654.6 558 655.7 C558.5 656.9 558.3 656.3 558.6 657.5 C558.9 658.8 558.8 658.8 558.8 659.5 C558.9 660.1 558.9 658.8 558.8 659.5Z" stroke-width="1.2"/>
<path d="M546.8 655.1 C546.4 655.5 545 655.6 544.6 657.1 C544.2 658.6 543.6 662.5 544.1 664.1 C544.7 665.7 547.4 666.2 548 666.6" stroke-width="1.1"/>
<path d="M548 654 L557.3 654.8" stroke-width="0.8"/>
<path d="M544.9 663.3 L546.8 664.1" stroke-width="0.8"/>
<path d="M387.1 613.8 L395.1 605.5 L401.4 604.5 L411.4 612 L421.4 608 L437.7 613.8" stroke-width="1.5"/>
<path d="M387.1 613.8 L388.1 618.8 L395.1 623.8 L394.6 632.6 L403.9 640.1 L407.1 647.1" stroke-width="1.5"/>
<path d="M407.1 647.1 C405.1 646.9 404.7 642.2 405.1 640.1 C405.5 638 407.5 633.8 410.1 631.3 C412.8 628.8 421.5 623.6 425.2 621.3 C428.8 619 435.4 614.5 437.7 613.8 C439.9 613.1 441.7 615 442.2 616.3 C442.7 617.6 442.4 621.6 441.4 623.8 C440.5 626 438 630.2 435.2 632.6 C432.3 634.9 423.9 639.4 420.2 641.3 C416.4 643.3 409.1 647.3 407.1 647.1Z" stroke-width="1.7"/>
<path d="M395.1 623.8 L411.4 612" stroke-width="0.9"/>
<path d="M395.1 623.8 L403.9 627.6 L421.4 615" stroke-width="0.9"/>
<path d="M394.6 632.6 L403.9 627.6" stroke-width="0.9"/>
<path d="M389.6 613.8 L390.6 618" stroke-width="0.8"/>
<path d="M392.1 613 L393.1 619.5" stroke-width="0.8"/>
<path d="M394.6 612 L395.6 621" stroke-width="0.8"/>
<path d="M398.9 631.3 L403.9 634.6 L403.9 638.8 L399.6 636.3Z" stroke-width="0.9" fill="#999"/>
<path d="M411.4 638.8 L420.2 636.3" stroke-width="0.8"/>
<path d="M420.2 635.1 L435.2 627.6" stroke-width="0.8"/>
<path d="M328.8 701.4 C329.1 699.6 328.7 698 332.5 695.2 C336.4 692.3 349.5 684.6 357.6 680.1 C365.6 675.6 386.6 663.9 392.6 661.4 C398.6 658.8 399.8 659.9 402.6 660.9 C405.5 661.9 411.9 666.8 413.9 668.9 C415.9 670.9 417.6 674.4 417.6 676.4 C417.6 678.4 418.6 680.6 413.9 683.9 C409.2 687.2 391.1 697.2 382.6 701.4 C374.1 705.6 356.1 713.4 350 715.2 C344 717 340.2 716 337.5 715.2 C334.9 714.4 331.2 710.8 330 708.9 C328.8 707.1 328.4 703.3 328.8 701.4Z" stroke-width="1.7"/>
<path d="M333.8 701.4 C334.1 700 334 698.8 337.5 696.4 C341 694 352.7 687.3 360.1 683.1 C367.4 679 387.1 667.6 392.6 665.1 C398.1 662.6 399 663.8 401.4 664.6 C403.7 665.4 408.6 669.7 410.1 671.4 C411.7 673 413.1 675.7 413.1 677.1 C413.1 678.6 414.4 679.4 410.1 682.1 C405.9 684.9 389.4 693.8 381.3 697.7 C373.3 701.6 355.6 709.6 350 711.4 C344.5 713.3 342 712 340 711.4 C338 710.9 335.9 708.5 335 707.2 C334.2 705.8 333.4 702.9 333.8 701.4Z" stroke-width="1.2"/>
<path d="M360.3 699.4 C360.2 700 360.4 700.1 360 701.3 C359.6 702.5 359.9 702 359.1 703 C358.3 704.1 358.8 703.7 357.7 704.5 C356.6 705.4 357.2 705.1 355.8 705.7 C354.5 706.3 355.1 706.1 353.6 706.4 C352.1 706.8 352.9 706.7 351.3 706.7 C349.7 706.7 350.5 706.8 349 706.4 C347.5 706.1 348.1 706.3 346.8 705.7 C345.4 705.1 346 705.4 344.9 704.5 C343.8 703.7 344.3 704.1 343.5 703 C342.7 702 343 702.5 342.6 701.3 C342.2 700.1 342.3 700.7 342.3 699.4 C342.3 698.2 342.2 698.7 342.6 697.5 C343 696.3 342.7 696.9 343.5 695.8 C344.3 694.7 343.8 695.2 344.9 694.3 C346 693.4 345.4 693.8 346.8 693.1 C348.1 692.5 347.5 692.7 349 692.4 C350.5 692.1 349.7 692.2 351.3 692.2 C352.9 692.2 352.1 692.1 353.6 692.4 C355.1 692.7 354.5 692.5 355.8 693.1 C357.2 693.8 356.6 693.4 357.7 694.3 C358.8 695.2 358.3 694.7 359.1 695.8 C359.9 696.9 359.6 696.3 360 697.5 C360.4 698.7 360.2 698.8 360.3 699.4 C360.4 700 360.4 698.8 360.3 699.4Z" stroke-width="1.0"/>
<path d="M357.6 688.9 L370.1 681.4 L381.3 695.2 L368.8 702.7Z" stroke-width="1.6"/>
<path d="M373.8 680.1 L388.9 671.4 L402.6 683.9 L387.6 692.7Z" stroke-width="1.6"/>
<path d="M361.3 690.2 L370.1 685.1 L377.6 694.7 L368.8 699.7Z" stroke-width="0.8"/>
<path d="M377.6 681.4 L388.1 675.1 L398.1 683.9 L387.6 689.6Z" stroke-width="0.8"/>
<path d="M365.1 693.9 L373.8 688.9" stroke-width="0.8"/>
<path d="M381.3 686.4 L393.9 680.1" stroke-width="0.8"/>
<path d="M390.1 669.6 L405.1 682.1" stroke-width="1.6"/>
<path d="M495.9 595.9 C498 595.5 501.4 596.5 502.6 597.5 C503.8 598.5 504.9 601.5 505.1 603.4 C505.3 605.3 505.2 609.3 504.3 611.7 C503.4 614.2 500.8 618.9 498.4 621.8 C496.1 624.6 490.1 630.5 486.7 633.4 C483.4 636.3 476.2 641.8 473.4 643.5 C470.6 645.1 467.5 646.4 465.9 646 C464.2 645.5 462.1 642.6 460.9 640.1 C459.6 637.7 456.8 630.3 456.7 627.6 C456.6 624.9 457.8 622.6 460 620.1 C462.3 617.5 469.8 611.1 473.4 608.4 C477 605.7 483.7 601.7 486.7 600.1 C489.7 598.4 493.8 596.2 495.9 595.9Z" stroke-width="1.4"/>
<path d="M495.9 600.1 C497.5 599.7 499.4 600.4 500.1 601.7 C500.8 603.1 501.4 607.8 500.9 610.1 C500.5 612.3 498.9 615.7 496.8 618.4 C494.6 621.1 488.2 627.3 485.1 630.1 C482 632.9 475.7 637.8 473.4 639.3 C471.1 640.7 468.8 641.3 467.5 641 C466.3 640.6 465.1 638.6 464.2 636.8 C463.3 635 460.9 629.6 460.9 627.6 C460.9 625.6 462.1 623.9 464.2 621.8 C466.3 619.6 473.5 614.1 476.7 611.7 C480 609.4 485.9 605.8 488.4 604.2 C491 602.7 494.4 600.4 495.9 600.1Z" stroke-width="1.1"/>
<path d="M468 610.1 C469.4 609.2 473.3 606.4 475.9 604.7 C478.5 603.1 482.4 600.8 483.7 600.1" stroke-width="2.2"/>
<path d="M480.1 611.7 L481.7 618.4 L495.1 613.4 L498.4 607.6" stroke-width="0.9"/>
<path d="M465 623.4 L470.9 633.4 L475.9 635.9" stroke-width="0.9"/>
<path d="M473.4 631.8 L486.7 623.4" stroke-width="0.9"/>
<path d="M484.2 609.2 L483.7 616.7" stroke-width="0.8"/>
<path d="M498.4 601.7 L498.8 610.1" stroke-width="0.8"/>
</g>
</svg>
</body></html>
